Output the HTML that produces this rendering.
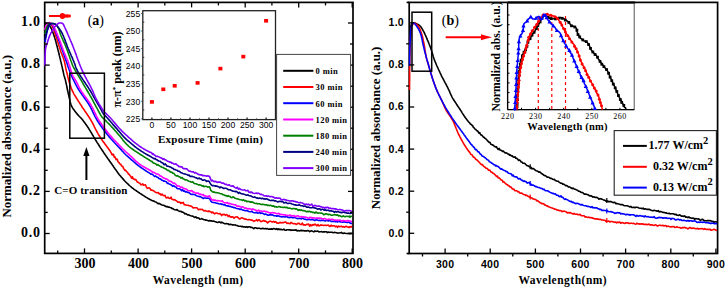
<!DOCTYPE html>
<html><head><meta charset="utf-8"><style>
html,body{margin:0;padding:0;background:#fff;width:727px;height:288px;overflow:hidden}
svg{display:block}
text{font-family:"Liberation Serif",serif;fill:#000}
.ta{font-size:14px;font-weight:bold;letter-spacing:0px}
.tb{font-family:"Liberation Sans",sans-serif;font-size:10.5px;font-weight:bold;letter-spacing:0.3px}
.ti{font-family:"Liberation Sans",sans-serif;font-size:8.6px}
.tj{font-family:"Liberation Serif",serif;font-size:8px}
.lab{font-size:11.5px;font-weight:bold}
.laby{font-size:12.9px;font-weight:bold}
.labi{font-size:12px;font-weight:bold}
.labj{font-size:11.7px;font-weight:bold}
.co{font-size:11px;font-weight:bold;letter-spacing:0.15px}
.pl{font-size:14px;font-weight:bold}
.lg{font-size:8.5px;font-weight:bold;letter-spacing:0.4px}
.lb{font-size:12px;font-weight:bold}
</style></head><body>
<svg width="727" height="288" viewBox="0 0 727 288">
<rect x="44.7" y="2.4" width="308.3" height="251.0" fill="none" stroke="#000" stroke-width="1.7"/>
<polyline points="44.8,24.5 45.4,23.6 46.0,23.0 47.0,23.2 48.0,23.8 48.6,24.4 49.2,25.1 49.8,26.0 50.4,27.0 51.0,28.0 51.4,28.8 51.8,29.7 52.2,30.6 52.6,31.6 53.0,32.6 53.4,33.7 53.7,34.8 54.1,35.9 54.5,36.9 54.8,38.0 55.1,39.0 55.4,39.9 55.7,40.9 56.0,41.9 56.2,43.0 56.5,44.0 56.7,45.0 57.0,46.0 57.3,47.0 57.5,48.0 57.8,49.0 58.0,50.0 58.3,51.0 58.5,52.1 58.8,53.1 59.0,54.1 59.3,55.1 59.5,56.0 59.8,57.0 60.0,58.0 60.3,59.0 60.5,60.0 60.7,61.0 61.0,62.1 61.2,63.1 61.5,64.2 61.7,65.2 62.0,66.2 62.2,67.3 62.4,68.2 62.6,69.1 62.8,70.0 63.0,71.1 63.3,72.1 63.5,73.1 63.7,74.0 63.9,75.0 64.2,76.0 64.5,76.9 64.8,77.9 65.1,78.9 65.4,80.0 65.6,80.9 65.8,81.8 66.0,82.8 66.2,83.8 66.5,84.9 66.7,85.9 66.9,87.0 67.1,88.0 67.3,89.0 67.5,90.0 67.7,91.1 68.0,92.1 68.2,93.1 68.4,94.2 68.7,95.2 68.9,96.2 69.1,97.1 69.3,98.0 69.6,99.1 69.8,100.1 70.0,101.2 70.3,102.1 70.5,103.0 70.8,104.0 71.1,105.0 71.5,106.0 72.0,106.9 72.6,107.9 73.3,109.0 74.1,110.0 74.8,111.0 75.5,111.9 76.2,112.9 77.0,113.8 77.7,114.6 78.5,115.5 79.2,116.3 79.9,117.0 80.7,117.7 81.4,118.5 82.1,119.3 82.8,120.1 83.4,121.0 84.1,121.9 84.8,122.8 85.4,123.7 86.0,124.5 86.7,125.5 87.3,126.4 87.9,127.3 88.6,128.3 89.1,129.2 89.7,130.1 90.3,131.1 90.9,132.1 91.5,133.1 92.1,134.1 92.6,135.0 93.2,135.9 93.7,136.8 94.2,137.6 94.7,138.5 95.3,139.5 95.7,140.2 96.2,141.0 96.7,141.8 97.2,142.6 97.8,143.5 98.4,144.4 98.9,145.3 99.5,146.2 100.1,147.2 100.7,148.1 101.4,149.1 102.0,150.0 102.5,150.8 103.1,151.6 103.6,152.4 104.2,153.2 104.7,154.1 105.3,154.9 105.9,155.8 106.5,156.6 107.1,157.5 107.7,158.4 108.3,159.3 109.0,160.1 109.5,161.0 110.1,161.8 110.7,162.6 111.3,163.4 111.9,164.2 112.4,165.0 113.1,165.9 113.7,166.9 114.3,167.8 114.9,168.7 115.6,169.5 116.2,170.4 116.8,171.3 117.4,172.1 118.0,173.0 118.6,173.8 119.3,174.7 120.0,175.5 120.7,176.3 121.3,177.1 122.0,177.8 122.7,178.6 123.4,179.4 124.1,180.2 124.8,181.0 125.5,181.7 126.3,182.5 127.0,183.2 127.8,183.9 128.5,184.6 129.3,185.3 130.0,186.0 130.8,186.7 131.6,187.4 132.4,188.0 133.3,188.6 134.1,189.3 134.9,189.9 135.8,190.4 136.6,191.0 137.5,191.6 138.3,192.2 139.2,192.7 140.0,193.3 140.9,193.9 141.8,194.5 142.7,195.1 143.6,195.7 144.5,196.3 145.4,196.8 146.3,197.4 147.2,197.9 148.2,198.5 149.1,199.0 150.0,199.5 151.0,200.0 152.0,200.6 153.0,200.9 154.0,201.1 155.0,201.7 156.0,202.0 157.0,202.8 158.0,203.6 159.0,203.4 160.0,203.8 161.0,204.6 162.0,205.0 163.0,205.3 164.0,205.3 165.0,206.0 166.0,206.7 167.0,206.4 168.0,207.1 169.0,207.0 170.0,207.5 171.0,207.7 172.0,208.6 173.0,208.6 174.0,209.5 175.0,209.8 176.0,210.0 177.0,209.5 178.0,210.6 179.0,211.1 180.0,211.5 181.0,211.3 182.0,212.1 182.9,212.3 183.9,212.8 184.9,213.9 185.9,213.6 186.9,214.3 187.9,215.0 188.9,214.9 190.0,215.5 190.9,215.8 191.9,216.1 192.8,216.0 193.8,216.8 194.8,217.5 195.8,216.8 196.8,217.9 197.8,217.9 198.8,218.0 199.8,219.2 200.9,219.0 201.9,218.6 203.0,219.3 204.0,219.7 205.0,219.7 205.9,220.2 206.9,220.1 207.8,220.6 208.7,221.0 209.7,220.5 210.6,220.9 211.6,220.9 212.6,221.3 213.6,221.0 214.6,221.4 215.6,221.7 216.7,222.2 217.8,222.5 218.9,221.8 220.0,222.2 220.9,222.9 221.7,222.1 222.6,222.8 223.5,223.1 224.4,223.7 225.3,223.7 226.3,223.5 227.2,223.7 228.2,223.9 229.1,224.7 230.1,224.2 231.1,224.4 232.1,224.9 233.1,224.9 234.1,225.0 235.2,224.9 236.2,225.5 237.2,225.5 238.3,226.2 239.3,226.2 240.4,226.2 241.4,226.6 242.5,226.4 243.6,227.0 244.6,226.8 245.7,227.2 246.8,226.6 247.8,227.4 248.9,226.8 250.0,226.8 250.9,227.5 251.9,227.4 252.8,227.9 253.8,228.7 254.7,227.7 255.7,227.8 256.6,228.2 257.6,228.4 258.6,228.2 259.6,228.3 260.6,228.7 261.6,228.7 262.6,228.2 263.6,228.6 264.6,228.7 265.6,228.4 266.6,228.9 267.6,228.6 268.6,229.3 269.6,229.0 270.6,229.1 271.7,228.9 272.7,229.1 273.7,228.5 274.7,228.8 275.8,229.4 276.8,228.6 277.8,229.7 278.8,228.8 279.9,229.7 280.9,229.2 281.9,229.8 282.9,229.7 283.9,229.1 285.0,230.2 286.0,230.3 287.0,229.8 288.0,229.8 289.0,229.9 290.0,229.7 291.0,230.4 292.0,229.9 293.0,230.2 294.1,230.0 295.1,230.1 296.1,229.9 297.1,230.9 298.2,230.4 299.2,230.9 300.3,230.6 301.3,230.4 302.4,230.6 303.4,230.6 304.5,230.9 305.5,230.8 306.6,230.9 307.6,230.5 308.7,230.8 309.7,231.7 310.7,231.0 311.8,230.9 312.8,231.4 313.8,231.9 314.9,230.9 315.9,231.4 316.9,231.3 317.9,231.0 318.9,231.9 319.9,231.7 320.8,231.8 321.8,231.6 322.8,232.1 323.7,231.8 324.6,231.9 325.6,231.7 326.5,231.7 327.4,232.6 328.3,232.0 329.1,232.4 330.0,232.3 331.1,232.2 332.2,232.2 333.3,232.7 334.4,232.4 335.4,232.5 336.5,232.7 337.5,233.1 338.5,233.0 339.5,233.0 340.4,232.7 341.4,232.4 342.4,233.3 343.3,233.4 344.3,233.0 345.2,233.3 346.2,233.5 347.1,233.5 348.1,233.6 349.1,233.2 350.0,233.9 351.0,233.0 352.0,233.8" fill="none" stroke="#000000" stroke-width="1.6" stroke-linejoin="round"/>
<polyline points="45.0,30.0 45.4,28.9 45.7,27.8 46.1,26.8 46.5,25.8 47.0,25.0 48.2,23.9 49.5,23.5 50.4,23.9 51.2,24.8 52.0,26.0 52.4,26.7 52.8,27.4 53.2,28.3 53.5,29.3 53.9,30.3 54.3,31.3 54.7,32.4 55.0,33.6 55.4,34.7 55.8,35.8 56.1,36.9 56.5,38.0 56.8,39.0 57.2,40.0 57.5,41.0 57.8,42.0 58.2,43.1 58.5,44.1 58.8,45.2 59.1,46.2 59.5,47.2 59.8,48.3 60.1,49.2 60.4,50.2 60.7,51.1 61.0,52.0 61.4,53.1 61.8,54.1 62.2,55.1 62.6,56.1 63.0,57.0 63.3,58.0 63.7,59.0 64.0,60.0 64.3,60.9 64.5,61.9 64.7,62.8 64.9,63.7 65.1,64.7 65.3,65.7 65.5,66.7 65.7,67.8 65.9,68.9 66.2,70.0 66.4,70.9 66.6,71.7 66.9,72.7 67.1,73.6 67.3,74.6 67.6,75.6 67.8,76.7 68.1,77.7 68.4,78.8 68.6,79.8 68.9,80.9 69.2,81.9 69.5,83.0 69.9,84.1 70.2,85.1 70.5,86.1 70.9,87.1 71.2,88.1 71.6,89.1 72.0,90.0 72.4,91.0 72.9,91.9 73.4,92.8 73.8,93.8 74.3,94.6 74.9,95.5 75.4,96.4 75.9,97.3 76.5,98.1 77.0,99.0 77.6,99.8 78.1,100.7 78.7,101.6 79.2,102.4 79.8,103.3 80.3,104.1 80.9,105.0 81.5,105.9 82.0,106.8 82.6,107.7 83.2,108.5 83.8,109.4 84.4,110.3 85.0,111.2 85.6,112.0 86.2,112.9 86.8,113.8 87.4,114.7 88.0,115.6 88.6,116.4 89.1,117.3 89.7,118.2 90.3,119.1 90.8,120.0 91.3,120.9 91.8,121.7 92.3,122.6 92.7,123.5 93.2,124.4 93.7,125.3 94.1,126.2 94.5,127.1 95.0,128.0 95.4,128.8 95.9,129.7 96.3,130.6 96.8,131.5 97.3,132.4 97.8,133.3 98.3,134.1 98.8,135.0 99.3,135.8 99.9,136.7 100.4,137.5 101.0,138.4 101.5,139.2 102.1,140.0 102.7,140.9 103.3,141.7 103.9,142.5 104.5,143.3 105.1,144.2 105.7,145.0 106.3,145.8 106.9,146.7 107.6,147.5 108.2,148.3 108.8,149.2 109.4,150.0 110.0,150.8 110.6,151.9 111.2,152.9 111.8,154.4 112.4,155.0 113.0,154.2 113.6,154.7 114.2,157.1 114.9,156.8 115.5,158.3 116.1,159.6 116.7,158.9 117.3,159.5 118.0,161.7 118.6,162.3 119.2,162.9 119.8,163.9 120.4,164.1 120.9,164.4 121.5,165.9 122.2,166.3 123.0,166.8 123.7,168.9 124.4,169.4 125.0,170.5 125.7,170.4 126.4,171.4 127.1,172.0 127.8,172.8 128.5,174.2 129.2,174.3 130.0,175.7 130.8,176.4 131.6,178.2 132.4,176.8 133.2,178.9 134.0,179.0 134.9,179.7 135.7,179.5 136.6,180.8 137.4,182.1 138.3,182.3 139.1,183.0 140.0,183.3 140.9,184.8 141.8,184.6 142.7,183.8 143.6,185.3 144.5,185.0 145.4,184.7 146.3,186.8 147.3,188.4 148.2,188.1 149.1,187.8 150.0,188.4 150.9,190.2 151.8,190.0 152.7,190.4 153.6,190.8 154.5,191.4 155.4,192.3 156.3,192.6 157.3,192.8 158.2,192.5 159.1,193.9 160.0,193.6 161.0,195.1 162.0,194.1 163.0,195.3 164.0,195.8 165.0,195.4 166.0,197.7 167.0,197.9 168.0,197.2 169.0,198.3 170.0,198.5 171.0,197.1 171.9,199.3 172.9,199.5 173.8,199.9 174.7,199.6 175.7,200.5 176.7,200.9 177.7,202.1 178.8,202.1 180.0,202.3 180.8,203.5 181.6,202.6 182.4,203.0 183.3,202.4 184.2,204.8 185.1,204.8 186.1,205.1 187.1,205.3 188.1,205.3 189.1,205.7 190.1,205.8 191.1,206.2 192.1,206.7 193.2,208.0 194.2,207.7 195.3,207.7 196.3,207.8 197.3,208.1 198.3,209.7 199.3,209.4 200.3,209.4 201.3,209.5 202.2,209.3 203.1,210.2 204.0,211.0 205.1,210.6 206.1,210.9 207.1,211.2 208.1,211.6 209.0,210.8 210.0,211.8 210.9,211.7 211.9,212.9 212.8,212.1 213.8,213.1 214.7,213.9 215.7,213.0 216.7,213.0 217.8,213.7 218.9,213.8 220.0,213.4 220.9,214.5 221.7,215.6 222.6,214.4 223.5,214.6 224.4,214.3 225.3,215.3 226.3,214.6 227.2,214.9 228.2,216.5 229.1,215.4 230.1,216.8 231.1,217.3 232.1,216.7 233.1,217.1 234.1,218.2 235.2,217.1 236.2,217.0 237.2,216.8 238.3,217.8 239.3,218.9 240.4,218.8 241.4,217.8 242.5,218.1 243.6,218.5 244.6,219.1 245.7,219.0 246.8,219.4 247.8,219.7 248.9,219.5 250.0,219.8 250.9,220.1 251.9,220.0 252.8,220.5 253.8,221.4 254.7,220.8 255.7,220.5 256.6,219.6 257.6,221.0 258.6,219.7 259.6,220.1 260.6,221.5 261.6,221.5 262.6,221.1 263.6,220.3 264.6,221.2 265.6,221.1 266.6,221.9 267.6,223.0 268.6,221.9 269.6,221.3 270.6,221.2 271.7,221.9 272.7,221.9 273.7,221.4 274.7,222.3 275.8,221.6 276.8,223.0 277.8,223.1 278.8,223.1 279.9,222.3 280.9,222.9 281.9,222.6 282.9,222.5 283.9,222.6 285.0,222.1 286.0,222.1 287.0,223.5 288.0,223.0 289.0,223.4 290.0,223.9 291.0,222.3 292.0,223.0 293.0,223.6 294.1,223.8 295.1,223.5 296.1,224.4 297.1,224.0 298.2,223.2 299.2,223.4 300.3,224.5 301.3,224.4 302.4,223.1 303.4,225.1 304.5,224.7 305.5,225.2 306.6,224.3 307.6,224.4 308.7,224.0 309.7,226.2 310.7,224.7 311.8,225.8 312.8,224.5 313.8,225.1 314.9,224.0 315.9,224.9 316.9,225.8 317.9,224.5 318.9,225.9 319.9,225.6 320.8,224.8 321.8,225.2 322.8,225.3 323.7,225.6 324.6,225.3 325.6,225.2 326.5,225.6 327.4,225.2 328.3,225.1 329.1,225.9 330.0,226.5 331.1,225.2 332.2,226.1 333.3,225.8 334.4,225.7 335.4,226.8 336.5,226.1 337.5,227.3 338.5,226.0 339.5,226.8 340.4,226.5 341.4,226.2 342.4,227.0 343.3,226.6 344.3,227.2 345.2,226.8 346.2,226.2 347.1,226.9 348.1,227.0 349.1,227.6 350.0,226.5 351.0,227.1 352.0,226.2" fill="none" stroke="#ff0000" stroke-width="1.6" stroke-linejoin="round"/>
<polyline points="45.0,42.0 45.2,41.0 45.4,40.0 45.6,38.9 45.8,37.9 46.0,36.8 46.2,35.8 46.4,34.8 46.6,33.8 46.8,32.9 47.0,32.0 47.3,30.9 47.6,29.7 47.9,28.7 48.2,27.7 48.6,26.8 49.0,26.0 50.0,24.6 51.0,24.0 52.0,24.6 53.0,26.0 53.4,26.6 53.7,27.3 54.1,28.0 54.5,28.9 54.9,29.8 55.3,30.8 55.7,31.8 56.1,32.8 56.5,33.9 56.8,34.9 57.2,36.0 57.6,37.0 58.0,38.0 58.4,39.0 58.7,40.0 59.1,41.0 59.5,42.0 59.9,43.0 60.2,44.0 60.6,45.1 60.9,46.1 61.3,47.1 61.6,48.1 62.0,49.1 62.3,50.1 62.7,51.1 63.0,52.0 63.4,53.1 63.8,54.1 64.1,55.2 64.5,56.2 64.9,57.3 65.2,58.3 65.5,59.2 65.9,60.2 66.2,61.1 66.5,62.0 66.9,63.1 67.2,64.1 67.5,65.1 67.8,66.0 68.1,67.0 68.5,68.0 68.9,69.0 69.2,70.0 69.6,71.0 70.0,72.0 70.4,73.0 70.8,74.0 71.2,75.0 71.6,76.0 72.1,77.0 72.5,78.0 73.0,79.0 73.5,80.0 74.0,81.0 74.5,82.0 74.9,82.9 75.4,83.7 75.8,84.6 76.3,85.4 76.7,86.3 77.2,87.2 77.7,88.1 78.3,89.0 78.9,90.0 79.4,90.7 79.8,91.5 80.4,92.2 80.9,93.0 81.5,93.8 82.1,94.7 82.7,95.5 83.3,96.3 83.9,97.2 84.5,98.1 85.1,98.9 85.8,99.8 86.4,100.7 87.0,101.5 87.6,102.4 88.1,103.3 88.7,104.1 89.2,105.0 89.7,105.9 90.3,106.9 90.8,107.8 91.2,108.7 91.7,109.7 92.2,110.6 92.6,111.6 93.1,112.5 93.5,113.5 94.0,114.4 94.5,115.3 94.9,116.3 95.4,117.2 95.9,118.2 96.5,119.1 97.0,120.0 97.5,120.9 98.1,121.7 98.6,122.6 99.2,123.4 99.7,124.3 100.3,125.1 100.9,125.9 101.5,126.8 102.1,127.6 102.7,128.5 103.3,129.3 103.9,130.1 104.5,131.0 105.2,131.8 105.8,132.6 106.4,133.4 107.1,134.2 107.7,135.0 108.4,135.8 109.0,136.6 109.7,137.4 110.4,138.2 111.1,139.0 111.9,139.8 112.6,140.6 113.4,141.4 114.1,142.2 114.8,143.0 115.5,143.7 116.2,144.5 116.9,145.2 117.6,145.9 118.2,146.6 118.9,147.3 119.4,147.9 120.0,148.5 120.8,149.4 121.6,150.3 122.3,151.1 123.0,151.8 123.6,152.6 124.3,153.3 125.0,154.0 125.8,154.8 126.6,155.5 127.4,156.2 128.2,156.9 129.1,157.7 130.0,158.5 130.7,159.1 131.5,159.8 132.2,160.4 133.1,161.1 133.9,161.9 134.8,162.6 135.6,163.3 136.5,164.1 137.4,164.8 138.3,165.5 139.1,166.2 140.0,166.8 140.9,167.5 141.8,168.1 142.7,168.7 143.6,169.3 144.5,169.9 145.4,170.5 146.3,171.1 147.2,171.7 148.2,172.3 149.1,172.8 150.0,173.4 150.9,174.2 151.8,174.1 152.7,174.4 153.6,175.5 154.5,176.4 155.4,176.0 156.3,176.6 157.3,177.3 158.2,177.6 159.1,178.6 160.0,178.7 160.9,179.2 161.8,180.2 162.7,180.2 163.6,181.1 164.5,181.1 165.4,181.5 166.4,181.7 167.3,183.5 168.2,183.2 169.1,183.9 170.0,184.3 170.9,184.8 171.8,185.3 172.6,186.4 173.4,185.8 174.3,186.1 175.1,186.8 176.0,187.1 176.9,188.3 177.9,188.8 178.9,188.7 180.0,189.0 180.8,189.7 181.6,190.7 182.5,189.6 183.4,191.1 184.4,190.9 185.4,192.0 186.4,191.7 187.5,192.4 188.5,192.4 189.6,192.9 190.7,194.2 191.8,194.4 192.9,194.3 194.0,194.5 195.1,194.6 196.1,195.5 197.2,195.9 198.2,196.2 199.2,196.6 200.1,196.5 201.0,197.1 201.8,197.4 202.6,198.1 203.3,198.5 204.0,198.0 205.4,198.0 206.6,198.3 207.7,198.1 208.7,198.2 209.5,198.8 210.2,199.3 210.7,201.0 211.5,201.8 212.2,202.3 213.0,202.5 214.0,202.5 215.0,202.7 216.1,203.1 217.4,203.2 218.6,203.8 220.0,204.0 220.7,203.7 221.5,204.4 222.2,204.1 223.0,204.6 223.9,204.9 224.8,204.5 225.6,205.5 226.6,205.8 227.5,205.9 228.5,206.1 229.5,206.4 230.5,206.4 231.5,207.0 232.5,207.1 233.6,207.6 234.6,207.5 235.7,208.2 236.8,208.5 237.9,208.7 239.0,208.8 240.1,209.5 241.2,209.0 242.3,210.0 243.4,210.1 244.5,210.4 245.6,210.7 246.7,210.6 247.8,211.0 248.9,211.5 250.0,211.7 250.9,211.8 251.9,211.3 252.8,212.2 253.8,212.6 254.7,212.8 255.7,212.7 256.6,212.2 257.6,213.2 258.6,213.0 259.6,212.4 260.6,213.5 261.5,213.1 262.5,213.3 263.5,213.7 264.5,214.5 265.6,214.1 266.6,214.5 267.6,215.1 268.6,215.2 269.6,214.8 270.6,214.9 271.7,214.7 272.7,215.0 273.7,215.6 274.7,215.7 275.7,215.7 276.8,216.2 277.8,215.7 278.8,216.1 279.8,216.5 280.9,216.6 281.9,216.9 282.9,216.8 283.9,216.7 285.0,217.0 286.0,216.7 287.0,216.6 288.0,217.5 289.0,217.4 290.0,217.6 291.0,217.0 292.0,217.6 293.0,217.6 294.0,217.7 295.1,217.3 296.1,218.1 297.1,218.6 298.2,218.5 299.2,218.3 300.3,218.6 301.3,218.9 302.4,217.8 303.4,218.8 304.5,219.2 305.5,219.3 306.6,219.7 307.6,219.6 308.7,219.4 309.7,219.5 310.7,219.8 311.8,219.4 312.8,219.6 313.8,220.1 314.8,220.5 315.9,219.8 316.9,220.0 317.9,220.1 318.9,220.6 319.9,220.2 320.8,220.8 321.8,220.0 322.8,220.4 323.7,220.4 324.6,220.8 325.6,221.0 326.5,220.2 327.4,220.5 328.3,221.0 329.1,220.7 330.0,220.5 331.1,221.5 332.2,221.4 333.3,221.4 334.4,221.2 335.4,221.8 336.5,221.4 337.5,222.0 338.5,221.4 339.5,221.5 340.4,221.9 341.4,221.7 342.4,222.2 343.3,222.1 344.3,221.8 345.2,222.2 346.2,222.1 347.1,222.6 348.1,222.2 349.1,222.3 350.0,223.0 351.0,223.4 352.0,223.4" fill="none" stroke="#0000ff" stroke-width="1.6" stroke-linejoin="round"/>
<polyline points="44.8,30.0 45.1,29.0 45.3,28.0 45.6,26.9 46.0,26.0 46.7,24.9 47.6,23.8 48.6,22.9 49.5,22.5 50.7,22.9 52.0,24.0 52.4,24.5 52.9,25.2 53.3,25.9 53.8,26.7 54.3,27.6 54.7,28.6 55.2,29.6 55.7,30.7 56.2,31.8 56.6,32.8 57.1,33.9 57.6,35.0 58.0,36.0 58.4,36.9 58.7,37.8 59.1,38.7 59.5,39.7 59.8,40.6 60.2,41.6 60.6,42.6 60.9,43.6 61.3,44.6 61.6,45.6 62.0,46.5 62.3,47.5 62.7,48.4 63.0,49.4 63.3,50.3 63.7,51.2 64.0,52.0 64.4,53.1 64.9,54.2 65.4,55.3 65.8,56.3 66.2,57.3 66.7,58.3 67.1,59.3 67.5,60.2 67.9,61.1 68.2,62.0 68.6,63.1 68.9,64.1 69.3,65.1 69.6,66.0 69.9,67.0 70.2,68.0 70.5,69.0 70.8,70.0 71.1,71.0 71.4,72.0 71.7,73.0 72.1,74.0 72.5,75.0 72.9,75.9 73.4,76.8 73.9,77.6 74.4,78.5 74.9,79.3 75.5,80.2 76.0,81.1 76.5,82.0 77.0,83.0 77.5,83.9 77.9,84.9 78.4,85.8 78.9,86.8 79.4,87.8 80.0,88.9 80.6,90.0 81.0,90.7 81.5,91.5 82.0,92.2 82.6,93.0 83.1,93.8 83.7,94.7 84.3,95.5 84.9,96.3 85.6,97.2 86.2,98.1 86.8,98.9 87.4,99.8 88.1,100.7 88.7,101.5 89.3,102.4 89.8,103.3 90.4,104.1 90.9,105.0 91.4,105.9 92.0,106.9 92.5,107.8 92.9,108.7 93.4,109.7 93.9,110.6 94.3,111.6 94.8,112.5 95.2,113.5 95.7,114.4 96.1,115.3 96.6,116.3 97.1,117.2 97.6,118.2 98.1,119.1 98.7,120.0 99.2,120.9 99.8,121.7 100.4,122.6 101.0,123.4 101.6,124.3 102.2,125.2 102.8,126.0 103.4,126.9 104.0,127.7 104.7,128.6 105.3,129.4 106.0,130.2 106.6,131.1 107.3,131.9 107.9,132.7 108.5,133.5 109.2,134.2 109.8,135.0 110.5,135.8 111.2,136.6 111.9,137.4 112.6,138.2 113.3,139.0 114.0,139.8 114.7,140.5 115.5,141.3 116.2,142.0 116.8,142.7 117.5,143.4 118.2,144.1 118.8,144.8 119.4,145.4 120.0,146.0 120.8,146.8 121.5,147.6 122.3,148.3 122.9,149.0 123.6,149.7 124.3,150.3 125.0,151.0 125.8,151.8 126.6,152.5 127.4,153.2 128.2,153.9 129.1,154.7 130.0,155.5 130.7,156.1 131.3,156.7 132.1,157.4 132.8,158.1 133.6,158.9 134.3,159.6 135.1,160.4 135.9,161.1 136.8,161.8 137.6,162.6 138.4,163.2 139.2,163.9 140.0,164.5 140.9,165.1 141.8,165.7 142.7,166.3 143.6,166.8 144.5,167.3 145.4,167.8 146.3,168.3 147.2,168.8 148.2,169.3 149.1,169.8 150.0,170.3 150.9,170.8 151.8,171.4 152.7,172.4 153.6,172.3 154.5,172.5 155.4,173.4 156.4,174.0 157.3,174.0 158.2,174.2 159.1,174.8 160.0,176.0 160.9,176.0 161.8,176.7 162.7,177.4 163.6,178.0 164.5,178.1 165.5,178.9 166.4,178.9 167.3,179.6 168.2,179.9 169.1,181.1 170.0,181.2 170.9,181.4 171.8,182.0 172.6,182.6 173.4,183.4 174.3,183.0 175.1,183.7 176.0,184.4 176.9,185.9 177.9,185.8 178.9,186.0 180.0,186.7 180.8,187.6 181.6,187.1 182.5,187.5 183.4,188.4 184.4,188.5 185.4,189.0 186.4,189.0 187.5,190.3 188.5,190.6 189.6,190.7 190.7,191.1 191.8,190.6 192.9,191.9 194.0,192.1 195.1,192.7 196.1,193.1 197.2,193.1 198.2,193.0 199.2,194.1 200.1,194.0 201.0,194.5 201.8,194.6 202.6,195.0 203.3,194.5 204.0,195.9 205.4,195.9 206.6,196.3 207.7,196.7 208.7,196.1 209.5,195.9 210.2,197.2 210.7,198.3 211.5,199.5 212.2,200.1 213.0,199.6 214.0,200.5 215.0,200.0 216.2,200.7 217.4,200.6 218.7,200.7 220.0,201.0 220.7,201.0 221.4,201.1 222.2,200.9 222.9,201.7 223.8,202.5 224.6,202.8 225.5,202.8 226.3,202.9 227.2,202.6 228.2,203.6 229.1,203.4 230.1,203.6 231.1,203.9 232.1,204.3 233.1,204.4 234.1,204.8 235.1,204.7 236.2,205.3 237.2,206.5 238.3,206.0 239.3,206.2 240.4,206.8 241.5,207.2 242.6,206.8 243.6,207.4 244.7,208.1 245.8,208.1 246.8,208.3 247.9,209.1 249.0,208.5 250.0,209.0 250.9,209.0 251.9,209.9 252.8,208.9 253.8,209.5 254.7,209.8 255.7,210.4 256.6,210.5 257.6,211.0 258.6,210.2 259.6,211.1 260.6,211.0 261.5,211.0 262.5,211.6 263.5,211.3 264.5,211.0 265.6,211.8 266.6,211.6 267.6,212.0 268.6,212.5 269.6,212.7 270.6,213.3 271.6,212.8 272.7,212.5 273.7,212.9 274.7,213.0 275.7,213.1 276.8,213.8 277.8,213.6 278.8,213.3 279.8,214.4 280.9,214.2 281.9,214.5 282.9,214.6 283.9,214.9 285.0,214.8 286.0,215.4 287.0,215.2 288.0,215.4 289.0,215.5 290.0,215.0 291.0,215.6 292.0,215.7 293.0,216.0 294.0,215.5 295.1,216.7 296.1,216.3 297.1,215.9 298.2,215.9 299.2,216.5 300.3,216.7 301.3,216.6 302.4,217.0 303.4,216.8 304.5,217.3 305.5,217.0 306.6,217.4 307.6,217.8 308.6,218.5 309.7,217.3 310.7,217.6 311.8,217.6 312.8,218.2 313.8,217.7 314.8,218.0 315.9,218.2 316.9,218.0 317.9,218.1 318.9,218.3 319.9,217.9 320.8,218.2 321.8,218.6 322.8,218.9 323.7,218.9 324.6,218.4 325.6,218.9 326.5,219.5 327.4,219.5 328.3,219.3 329.1,219.1 330.0,219.7 331.1,219.4 332.2,219.3 333.3,219.5 334.4,220.4 335.4,220.1 336.5,220.5 337.5,220.0 338.5,220.6 339.5,220.1 340.4,220.3 341.4,221.3 342.4,220.8 343.3,220.4 344.3,220.7 345.2,220.9 346.2,221.3 347.1,220.7 348.1,220.4 349.1,221.0 350.0,221.1 351.0,221.3 352.0,221.8" fill="none" stroke="#ff00ff" stroke-width="1.6" stroke-linejoin="round"/>
<polyline points="44.8,34.0 45.1,33.0 45.4,31.9 45.7,30.8 46.0,29.8 46.3,28.8 46.6,27.8 47.0,27.0 47.6,25.8 48.2,24.8 49.0,24.0 49.9,23.6 50.9,23.5 52.0,23.5 53.2,23.6 54.4,24.0 55.5,24.5 56.3,25.2 57.0,26.0 57.7,26.9 58.3,28.0 58.7,28.8 59.1,29.7 59.4,30.7 59.7,31.7 60.0,32.8 60.4,33.9 60.8,35.0 61.1,35.8 61.5,36.6 61.8,37.5 62.2,38.4 62.6,39.3 63.0,40.2 63.4,41.1 63.9,42.1 64.3,43.0 64.7,44.0 65.2,45.0 65.6,46.0 66.0,47.0 66.4,48.0 66.7,48.9 67.1,49.8 67.5,50.8 67.8,51.8 68.2,52.9 68.6,53.9 68.9,55.0 69.3,56.0 69.7,57.1 70.0,58.2 70.4,59.2 70.7,60.2 71.1,61.2 71.4,62.1 71.7,63.0 72.0,63.9 72.3,64.6 72.6,65.4 72.9,66.0 73.4,67.1 73.9,68.0 74.4,68.9 75.0,70.0 75.3,70.6 75.7,71.2 76.1,71.9 76.5,72.7 77.0,73.5 77.5,74.4 78.1,75.3 78.6,76.2 79.2,77.2 79.8,78.2 80.4,79.2 81.0,80.2 81.6,81.2 82.2,82.2 82.8,83.2 83.3,84.2 83.9,85.1 84.5,86.1 85.0,86.9 85.5,87.8 86.0,88.6 86.4,89.3 86.8,90.0 87.4,91.0 88.0,92.0 88.5,92.9 89.0,93.7 89.5,94.5 89.9,95.3 90.4,96.1 90.9,97.0 91.4,97.9 91.9,98.8 92.4,99.7 92.9,100.7 93.4,101.6 93.9,102.5 94.3,103.4 94.8,104.2 95.2,105.0 95.8,106.1 96.3,107.1 96.9,108.0 97.4,109.0 97.9,110.0 98.4,111.0 99.0,112.0 99.5,113.0 100.1,114.0 100.6,115.0 101.2,115.9 101.8,116.8 102.5,117.6 103.2,118.2 104.0,119.0 104.6,119.6 105.3,120.2 106.0,120.9 106.7,121.7 107.5,122.5 108.3,123.3 109.2,124.1 110.0,125.0 110.6,125.7 111.2,126.3 111.9,127.1 112.6,127.8 113.3,128.6 114.0,129.4 114.7,130.2 115.4,131.0 116.2,131.8 116.8,132.6 117.5,133.4 118.2,134.2 118.8,134.9 119.4,135.6 120.0,136.3 120.8,137.3 121.6,138.2 122.3,139.1 122.9,140.0 123.6,140.9 124.3,141.7 125.0,142.5 125.8,143.4 126.6,144.2 127.3,144.9 128.2,145.7 129.0,146.5 130.0,147.3 130.7,147.9 131.4,148.4 132.2,149.0 133.0,149.5 133.8,150.1 134.6,150.7 135.5,151.2 136.4,151.8 137.3,152.4 138.2,153.0 139.1,153.6 140.0,154.2 140.8,154.7 141.7,155.3 142.6,155.8 143.5,156.4 144.4,157.0 145.4,157.6 146.3,158.2 147.3,158.8 148.3,159.4 149.2,160.0 150.2,160.7 151.1,161.4 151.9,161.2 152.8,162.4 153.6,163.3 154.3,163.3 155.0,163.5 156.1,164.1 157.0,165.1 157.9,164.6 158.8,165.3 160.0,166.2 160.6,166.6 161.3,166.6 162.1,167.3 162.9,167.5 163.8,168.1 164.7,168.5 165.6,168.7 166.6,169.6 167.6,170.5 168.6,170.4 169.6,171.3 170.6,172.2 171.6,172.1 172.7,173.1 173.7,173.3 174.7,174.6 175.6,175.5 176.6,175.9 177.5,175.6 178.4,176.4 179.2,176.6 180.0,177.0 181.1,178.1 182.2,177.6 183.2,178.9 184.1,179.0 185.1,179.9 186.0,179.9 187.0,180.0 187.9,180.8 188.9,181.3 190.0,181.5 190.9,182.0 191.9,182.1 192.9,181.9 194.0,183.3 195.1,183.7 196.1,183.8 197.2,184.2 198.3,184.9 199.4,184.7 200.4,185.0 201.4,185.5 202.3,186.2 203.2,185.6 204.0,186.7 205.3,186.3 206.5,186.3 207.7,187.2 208.7,186.9 209.5,186.8 210.1,188.0 210.5,189.4 210.8,190.5 211.5,190.9 212.2,191.6 213.0,192.1 214.0,191.9 215.0,192.5 216.1,192.6 217.4,192.7 218.6,193.0 220.0,193.5 220.7,193.7 221.4,193.7 222.2,194.0 222.9,194.8 223.7,194.7 224.6,195.2 225.4,195.6 226.3,195.6 227.2,196.5 228.2,195.7 229.1,196.5 230.1,196.4 231.0,197.5 232.0,197.7 233.0,196.8 234.1,197.4 235.1,198.3 236.1,198.6 237.2,198.9 238.3,199.0 239.3,199.4 240.4,199.8 241.5,199.8 242.5,200.5 243.6,199.7 244.7,200.9 245.8,200.6 246.8,201.6 247.9,201.4 249.0,201.5 250.0,202.1 250.9,201.9 251.9,202.1 252.8,202.0 253.7,202.8 254.7,203.2 255.7,203.5 256.6,203.3 257.6,203.9 258.6,203.7 259.6,203.8 260.6,204.2 261.5,204.6 262.5,204.3 263.5,204.5 264.5,204.6 265.6,204.9 266.6,204.7 267.6,205.5 268.6,205.2 269.6,205.6 270.6,205.3 271.7,205.9 272.7,206.1 273.7,205.9 274.7,206.9 275.8,206.5 276.8,207.2 277.8,207.0 278.8,206.6 279.9,206.8 280.9,207.3 281.9,207.3 282.9,207.4 283.9,207.5 285.0,207.1 286.0,207.8 287.0,207.3 288.0,208.3 289.0,208.1 290.0,208.2 291.0,208.6 292.0,208.9 293.0,208.5 294.1,208.5 295.1,208.9 296.1,208.8 297.1,209.3 298.2,210.4 299.2,209.6 300.3,210.4 301.3,209.8 302.4,210.6 303.4,210.6 304.5,210.8 305.5,211.2 306.6,211.8 307.6,211.4 308.7,211.6 309.7,211.3 310.7,212.0 311.8,211.9 312.8,212.5 313.8,212.3 314.8,213.1 315.9,212.0 316.9,212.7 317.9,213.3 318.9,213.0 319.9,213.0 320.8,213.3 321.8,213.1 322.8,213.7 323.7,214.7 324.6,214.4 325.6,213.7 326.5,213.9 327.4,214.2 328.3,214.8 329.1,214.3 330.0,214.5 331.1,215.2 332.2,215.3 333.3,215.0 334.4,214.8 335.4,214.8 336.5,215.2 337.5,214.8 338.5,215.9 339.5,215.6 340.4,216.0 341.4,216.6 342.4,216.5 343.3,215.8 344.3,216.5 345.2,216.7 346.2,216.2 347.1,216.2 348.1,216.6 349.1,216.1 350.0,217.3 351.0,216.1 352.0,216.6" fill="none" stroke="#008000" stroke-width="1.6" stroke-linejoin="round"/>
<polyline points="44.8,40.0 45.0,39.0 45.3,38.0 45.5,37.0 45.7,35.9 45.9,34.9 46.2,33.9 46.4,32.9 46.7,31.9 47.0,31.0 47.3,29.9 47.7,28.7 48.0,27.5 48.4,26.4 48.9,25.4 49.4,24.6 50.0,24.0 50.9,23.6 51.9,23.5 53.0,23.5 54.1,23.7 55.0,24.0 55.9,24.5 56.6,25.2 57.3,26.1 58.0,27.0 58.6,27.7 59.1,28.4 59.7,29.2 60.3,30.1 60.9,31.0 61.4,32.0 62.0,33.0 62.4,33.7 62.7,34.5 63.1,35.4 63.5,36.3 63.9,37.2 64.2,38.1 64.6,39.1 65.0,40.1 65.4,41.1 65.7,42.1 66.1,43.1 66.5,44.1 66.9,45.1 67.2,46.1 67.6,47.1 68.0,48.0 68.4,49.0 68.8,49.9 69.2,50.9 69.6,51.9 70.1,52.8 70.5,53.8 70.9,54.8 71.3,55.8 71.8,56.7 72.2,57.6 72.6,58.6 72.9,59.5 73.3,60.3 73.7,61.2 74.0,62.0 74.4,63.1 74.8,64.1 75.1,65.0 75.4,65.9 75.7,66.9 76.0,67.8 76.5,68.9 77.0,70.0 77.4,70.7 77.8,71.5 78.2,72.3 78.7,73.1 79.3,74.0 79.8,74.9 80.4,75.8 81.0,76.7 81.7,77.7 82.3,78.7 82.9,79.6 83.6,80.6 84.2,81.6 84.9,82.5 85.5,83.5 86.1,84.4 86.8,85.3 87.3,86.2 87.9,87.0 88.4,87.8 88.9,88.6 89.4,89.3 89.8,90.0 90.4,91.0 91.0,92.0 91.5,92.9 92.0,93.7 92.4,94.6 92.9,95.4 93.3,96.2 93.8,97.0 94.3,97.9 94.8,98.8 95.4,99.8 95.9,100.7 96.4,101.6 96.9,102.4 97.4,103.3 97.9,104.2 98.5,105.1 99.0,105.9 99.5,106.8 100.0,107.6 100.5,108.5 101.1,109.6 101.7,110.7 102.2,111.8 102.8,112.8 103.4,113.7 104.2,114.7 105.1,115.6 106.0,116.5 106.6,117.2 107.2,117.8 107.8,118.5 108.5,119.3 109.2,120.1 110.0,121.0 110.5,121.6 111.1,122.3 111.8,123.0 112.4,123.8 113.1,124.6 113.8,125.4 114.6,126.3 115.3,127.1 116.0,127.9 116.8,128.8 117.5,129.6 118.1,130.4 118.8,131.1 119.4,131.8 120.0,132.5 120.8,133.4 121.5,134.3 122.2,135.1 122.9,135.9 123.6,136.6 124.3,137.4 125.0,138.1 125.8,138.9 126.6,139.6 127.4,140.3 128.2,141.0 129.1,141.7 130.0,142.5 130.7,143.1 131.4,143.7 132.2,144.3 133.0,145.0 133.8,145.6 134.6,146.3 135.5,147.0 136.3,147.7 137.2,148.3 138.1,149.0 139.1,149.7 140.0,150.3 140.8,150.8 141.6,151.4 142.5,151.9 143.5,152.5 144.4,153.1 145.3,153.6 146.3,154.2 147.3,154.7 148.3,155.3 149.2,155.8 150.1,156.3 151.1,156.8 151.9,157.4 152.8,157.9 153.6,158.2 154.3,159.0 155.0,158.3 156.1,159.6 157.0,159.8 157.9,160.5 158.8,161.0 160.0,161.2 160.6,161.6 161.3,162.5 162.0,162.7 162.8,162.8 163.6,164.2 164.4,164.7 165.3,163.9 166.2,165.0 167.1,166.3 168.0,166.2 169.0,166.5 170.0,166.9 171.0,167.3 172.0,168.0 173.0,168.4 174.0,169.4 175.0,169.5 176.0,170.0 177.0,170.2 178.0,171.1 179.0,171.3 180.0,171.9 180.9,172.8 181.9,172.9 182.9,173.4 183.9,173.7 184.9,174.0 185.9,174.3 187.0,174.6 188.1,175.4 189.1,175.1 190.2,176.4 191.3,176.3 192.3,176.4 193.4,176.8 194.4,177.1 195.5,177.7 196.5,177.8 197.5,178.7 198.4,178.4 199.3,178.1 200.2,178.9 201.1,178.7 201.9,179.7 202.6,180.3 203.3,180.3 204.0,179.8 205.4,180.3 206.6,181.4 207.7,181.0 208.7,181.1 209.5,181.9 210.1,183.1 210.5,183.7 210.8,184.2 211.5,185.1 212.2,185.6 213.0,185.5 214.0,185.6 215.0,186.1 216.2,185.9 217.4,186.4 218.6,186.7 220.0,187.8 220.7,186.9 221.4,187.3 222.2,187.6 222.9,188.0 223.8,188.5 224.6,188.2 225.4,188.3 226.3,188.3 227.2,188.9 228.2,189.7 229.1,189.8 230.1,189.7 231.1,190.3 232.0,190.7 233.1,191.2 234.1,191.2 235.1,191.6 236.2,191.4 237.2,192.0 238.3,193.3 239.3,192.3 240.4,193.2 241.5,193.7 242.5,193.9 243.6,194.0 244.7,194.6 245.8,194.9 246.8,195.2 247.9,194.8 249.0,195.7 250.0,195.7 250.9,196.0 251.9,196.5 252.8,196.9 253.7,197.2 254.7,196.9 255.7,197.6 256.6,197.9 257.6,198.1 258.6,198.4 259.6,198.0 260.6,198.2 261.5,198.8 262.5,198.2 263.5,198.9 264.5,198.9 265.6,199.1 266.6,198.8 267.6,199.3 268.6,199.8 269.6,200.3 270.6,200.5 271.7,200.3 272.7,200.4 273.7,200.4 274.7,201.0 275.8,200.9 276.8,201.4 277.8,202.0 278.8,201.5 279.9,201.2 280.9,201.6 281.9,201.5 282.9,201.8 283.9,202.9 285.0,202.7 286.0,202.2 287.0,203.2 288.0,203.6 289.0,203.2 290.0,203.3 291.0,203.6 292.0,204.0 293.0,204.3 294.1,204.7 295.1,204.9 296.1,205.1 297.1,205.3 298.2,205.3 299.2,204.7 300.3,205.4 301.3,205.8 302.4,205.7 303.4,206.4 304.5,206.1 305.5,206.1 306.6,207.2 307.6,207.1 308.7,207.1 309.7,207.6 310.7,207.8 311.8,207.8 312.8,207.0 313.8,207.8 314.8,208.1 315.9,208.1 316.9,208.7 317.9,209.2 318.9,208.8 319.8,208.7 320.8,210.0 321.8,209.3 322.7,209.2 323.7,209.9 324.6,210.1 325.6,209.9 326.5,210.5 327.4,210.2 328.3,210.2 329.1,210.7 330.0,211.1 331.1,210.7 332.2,211.2 333.3,211.2 334.4,212.4 335.4,211.3 336.5,212.1 337.5,211.7 338.5,211.8 339.5,212.2 340.4,212.4 341.4,212.6 342.4,212.4 343.3,212.1 344.3,212.2 345.2,212.7 346.2,212.8 347.1,213.2 348.1,212.9 349.1,213.3 350.0,213.5 351.0,213.2 352.0,212.7" fill="none" stroke="#000080" stroke-width="1.6" stroke-linejoin="round"/>
<polyline points="44.8,66.0 44.8,65.0 44.8,64.0 44.9,62.9 44.9,61.9 44.9,60.9 44.9,59.8 45.0,58.8 45.0,57.8 45.0,56.8 45.1,55.9 45.1,55.0 45.2,53.9 45.2,52.9 45.3,51.9 45.3,50.9 45.4,49.9 45.5,49.0 45.7,48.0 45.9,47.0 46.2,46.0 46.5,45.0 46.8,44.0 47.2,43.0 47.5,42.0 47.8,41.0 48.1,40.0 48.5,39.0 48.8,38.0 49.2,36.9 49.6,35.9 50.0,35.0 50.5,34.0 50.9,33.0 51.5,32.1 52.0,31.2 52.5,30.3 53.0,29.5 53.6,28.5 54.2,27.6 54.8,26.8 55.5,26.0 56.2,25.2 57.0,24.4 57.8,23.8 58.6,23.3 59.8,23.0 61.1,23.0 62.3,23.3 63.1,24.0 63.7,25.0 64.2,26.2 64.8,27.5 65.2,28.3 65.6,29.2 66.0,30.0 66.4,31.0 66.9,31.9 67.3,32.9 67.7,33.9 68.2,35.0 68.6,35.8 68.9,36.6 69.3,37.5 69.6,38.3 70.0,39.2 70.4,40.1 70.8,41.1 71.2,42.0 71.6,43.0 72.0,43.9 72.4,44.9 72.8,45.9 73.2,47.0 73.6,48.0 73.9,48.8 74.3,49.7 74.6,50.6 74.9,51.5 75.3,52.4 75.6,53.4 76.0,54.3 76.3,55.3 76.7,56.3 77.0,57.2 77.4,58.2 77.7,59.2 78.1,60.2 78.5,61.2 78.9,62.2 79.2,63.2 79.6,64.2 80.0,65.2 80.4,66.2 80.8,67.2 81.2,68.1 81.6,69.1 82.0,70.0 82.4,70.9 82.9,71.9 83.4,72.9 83.8,73.9 84.3,74.8 84.8,75.8 85.3,76.8 85.9,77.8 86.4,78.8 86.9,79.8 87.4,80.7 87.9,81.7 88.4,82.6 88.9,83.5 89.4,84.4 89.9,85.3 90.4,86.2 90.8,87.0 91.2,87.8 91.6,88.6 92.0,89.3 92.3,90.0 92.8,91.2 93.3,92.3 93.7,93.3 94.1,94.2 94.5,95.1 94.9,96.1 95.3,97.0 95.8,98.0 96.3,99.1 96.9,100.1 97.4,101.1 98.0,102.1 98.5,103.0 99.1,104.1 99.8,105.1 100.4,106.0 101.0,107.0 101.6,108.0 102.2,108.9 102.8,109.9 103.4,110.7 104.1,111.5 104.7,112.2 105.5,113.0 106.1,113.6 106.8,114.3 107.5,115.0 108.3,115.8 109.1,116.6 110.0,117.5 110.6,118.1 111.1,118.8 111.8,119.5 112.4,120.2 113.0,121.0 113.7,121.8 114.4,122.6 115.1,123.4 115.8,124.2 116.5,125.1 117.2,125.9 117.9,126.7 118.6,127.5 119.3,128.3 120.0,129.0 120.8,129.8 121.5,130.6 122.3,131.3 123.0,132.1 123.8,132.8 124.6,133.5 125.3,134.3 126.1,135.0 126.9,135.7 127.7,136.4 128.4,137.1 129.2,137.8 130.0,138.5 130.8,139.2 131.6,139.9 132.4,140.6 133.2,141.3 134.0,142.0 134.8,142.6 135.6,143.3 136.5,143.9 137.3,144.6 138.2,145.2 139.1,145.9 140.0,146.5 140.8,147.0 141.6,147.6 142.5,148.1 143.4,148.7 144.3,149.2 145.3,149.8 146.2,150.3 147.2,150.8 148.1,151.3 149.0,151.8 149.9,152.3 150.8,152.4 151.7,152.8 152.5,154.3 153.3,153.8 154.0,154.9 155.1,155.3 156.0,156.2 156.9,156.4 157.8,156.4 158.8,156.9 160.0,157.5 160.7,157.9 161.4,158.0 162.2,158.5 163.0,159.5 163.9,158.7 164.8,159.8 165.7,159.9 166.7,160.7 167.6,161.3 168.6,161.5 169.6,162.2 170.7,161.9 171.7,163.3 172.7,163.1 173.8,164.0 174.8,164.3 175.9,163.8 176.9,164.9 178.0,165.7 179.0,166.6 180.0,166.6 180.9,167.0 181.9,166.8 182.9,168.2 183.9,168.8 184.9,168.6 186.0,168.9 187.0,168.9 188.1,170.2 189.2,171.3 190.2,171.1 191.3,171.7 192.4,171.9 193.4,171.8 194.5,173.0 195.5,172.5 196.5,173.3 197.5,173.8 198.4,174.4 199.3,174.6 200.2,174.9 201.1,174.8 201.9,174.9 202.6,175.6 203.3,175.6 204.0,175.5 205.4,175.8 206.6,176.2 207.7,175.8 208.7,176.2 209.5,176.4 210.2,178.1 210.7,179.4 211.5,181.0 212.2,180.2 213.0,180.8 214.0,181.6 215.0,181.4 216.1,181.6 217.4,182.5 218.6,182.0 220.0,182.1 220.7,182.2 221.4,183.0 222.2,183.2 222.9,182.9 223.8,183.3 224.6,184.1 225.4,184.4 226.3,184.2 227.2,185.0 228.2,185.2 229.1,184.7 230.1,185.6 231.1,186.1 232.0,186.1 233.1,185.9 234.1,186.9 235.1,187.6 236.2,188.2 237.2,187.2 238.3,189.2 239.3,188.3 240.4,189.3 241.5,189.8 242.5,190.0 243.6,190.0 244.7,189.9 245.8,190.8 246.8,190.7 247.9,190.3 249.0,192.5 250.0,192.0 250.9,192.7 251.8,192.0 252.7,193.0 253.7,193.3 254.6,193.5 255.5,193.2 256.5,193.0 257.4,193.6 258.4,193.1 259.3,193.6 260.3,194.4 261.3,194.3 262.2,194.8 263.2,195.0 264.2,196.0 265.2,196.0 266.1,195.7 267.1,196.4 268.1,195.9 269.1,196.3 270.1,196.9 271.1,196.4 272.1,196.9 273.1,196.8 274.1,197.5 275.1,198.3 276.1,197.6 277.1,198.2 278.1,198.0 279.1,198.1 280.1,198.3 281.1,199.5 282.1,200.0 283.1,199.5 284.1,199.3 285.1,200.0 286.1,199.9 287.1,200.5 288.0,200.5 289.0,200.7 290.0,201.0 291.0,200.8 292.0,201.1 293.0,200.8 294.0,201.5 295.1,201.3 296.1,202.0 297.1,201.9 298.2,202.5 299.2,202.8 300.3,202.4 301.3,202.8 302.4,203.0 303.4,203.7 304.5,204.3 305.5,204.2 306.6,204.0 307.6,204.8 308.6,204.0 309.7,205.2 310.7,204.7 311.8,204.1 312.8,206.2 313.8,206.0 314.8,205.3 315.9,205.9 316.9,206.0 317.9,206.2 318.9,205.9 319.8,206.3 320.8,206.9 321.8,207.0 322.7,207.5 323.7,207.3 324.6,208.2 325.6,207.3 326.5,207.8 327.4,207.2 328.3,207.6 329.1,208.6 330.0,208.0 331.1,208.7 332.2,208.6 333.3,208.5 334.4,208.9 335.4,208.9 336.5,209.1 337.5,209.7 338.5,209.8 339.5,209.5 340.4,209.5 341.4,210.0 342.4,210.0 343.3,210.5 344.3,211.2 345.2,210.7 346.2,210.5 347.1,210.6 348.1,210.5 349.1,210.6 350.0,210.7 351.0,211.0 352.0,211.2" fill="none" stroke="#8000ff" stroke-width="1.6" stroke-linejoin="round"/>
<line x1="84.5" y1="253.4" x2="84.5" y2="248.4" stroke="#000" stroke-width="1.3"/><line x1="138.1" y1="253.4" x2="138.1" y2="248.4" stroke="#000" stroke-width="1.3"/><line x1="191.6" y1="253.4" x2="191.6" y2="248.4" stroke="#000" stroke-width="1.3"/><line x1="245.2" y1="253.4" x2="245.2" y2="248.4" stroke="#000" stroke-width="1.3"/><line x1="298.7" y1="253.4" x2="298.7" y2="248.4" stroke="#000" stroke-width="1.3"/><line x1="352.2" y1="253.4" x2="352.2" y2="248.4" stroke="#000" stroke-width="1.3"/>
<line x1="57.7" y1="253.4" x2="57.7" y2="250.4" stroke="#000" stroke-width="1.3"/><line x1="111.3" y1="253.4" x2="111.3" y2="250.4" stroke="#000" stroke-width="1.3"/><line x1="164.8" y1="253.4" x2="164.8" y2="250.4" stroke="#000" stroke-width="1.3"/><line x1="218.4" y1="253.4" x2="218.4" y2="250.4" stroke="#000" stroke-width="1.3"/><line x1="271.9" y1="253.4" x2="271.9" y2="250.4" stroke="#000" stroke-width="1.3"/><line x1="325.5" y1="253.4" x2="325.5" y2="250.4" stroke="#000" stroke-width="1.3"/>
<line x1="84.5" y1="2.4" x2="84.5" y2="7.4" stroke="#000" stroke-width="1.3"/><line x1="138.1" y1="2.4" x2="138.1" y2="7.4" stroke="#000" stroke-width="1.3"/><line x1="191.6" y1="2.4" x2="191.6" y2="7.4" stroke="#000" stroke-width="1.3"/><line x1="245.2" y1="2.4" x2="245.2" y2="7.4" stroke="#000" stroke-width="1.3"/><line x1="298.7" y1="2.4" x2="298.7" y2="7.4" stroke="#000" stroke-width="1.3"/><line x1="352.2" y1="2.4" x2="352.2" y2="7.4" stroke="#000" stroke-width="1.3"/>
<line x1="57.7" y1="2.4" x2="57.7" y2="5.4" stroke="#000" stroke-width="1.3"/><line x1="111.3" y1="2.4" x2="111.3" y2="5.4" stroke="#000" stroke-width="1.3"/><line x1="164.8" y1="2.4" x2="164.8" y2="5.4" stroke="#000" stroke-width="1.3"/><line x1="218.4" y1="2.4" x2="218.4" y2="5.4" stroke="#000" stroke-width="1.3"/><line x1="271.9" y1="2.4" x2="271.9" y2="5.4" stroke="#000" stroke-width="1.3"/><line x1="325.5" y1="2.4" x2="325.5" y2="5.4" stroke="#000" stroke-width="1.3"/>
<line x1="44.7" y1="233.5" x2="49.7" y2="233.5" stroke="#000" stroke-width="1.3"/><line x1="44.7" y1="191.4" x2="49.7" y2="191.4" stroke="#000" stroke-width="1.3"/><line x1="44.7" y1="149.3" x2="49.7" y2="149.3" stroke="#000" stroke-width="1.3"/><line x1="44.7" y1="107.2" x2="49.7" y2="107.2" stroke="#000" stroke-width="1.3"/><line x1="44.7" y1="65.1" x2="49.7" y2="65.1" stroke="#000" stroke-width="1.3"/><line x1="44.7" y1="23.0" x2="49.7" y2="23.0" stroke="#000" stroke-width="1.3"/>
<line x1="44.7" y1="212.4" x2="47.7" y2="212.4" stroke="#000" stroke-width="1.3"/><line x1="44.7" y1="170.3" x2="47.7" y2="170.3" stroke="#000" stroke-width="1.3"/><line x1="44.7" y1="128.2" x2="47.7" y2="128.2" stroke="#000" stroke-width="1.3"/><line x1="44.7" y1="86.2" x2="47.7" y2="86.2" stroke="#000" stroke-width="1.3"/><line x1="44.7" y1="44.0" x2="47.7" y2="44.0" stroke="#000" stroke-width="1.3"/>
<line x1="353.0" y1="233.5" x2="348.0" y2="233.5" stroke="#000" stroke-width="1.3"/><line x1="353.0" y1="191.4" x2="348.0" y2="191.4" stroke="#000" stroke-width="1.3"/><line x1="353.0" y1="149.3" x2="348.0" y2="149.3" stroke="#000" stroke-width="1.3"/><line x1="353.0" y1="107.2" x2="348.0" y2="107.2" stroke="#000" stroke-width="1.3"/><line x1="353.0" y1="65.1" x2="348.0" y2="65.1" stroke="#000" stroke-width="1.3"/><line x1="353.0" y1="23.0" x2="348.0" y2="23.0" stroke="#000" stroke-width="1.3"/>
<line x1="353.0" y1="212.4" x2="350.0" y2="212.4" stroke="#000" stroke-width="1.3"/><line x1="353.0" y1="170.3" x2="350.0" y2="170.3" stroke="#000" stroke-width="1.3"/><line x1="353.0" y1="128.2" x2="350.0" y2="128.2" stroke="#000" stroke-width="1.3"/><line x1="353.0" y1="86.2" x2="350.0" y2="86.2" stroke="#000" stroke-width="1.3"/><line x1="353.0" y1="44.0" x2="350.0" y2="44.0" stroke="#000" stroke-width="1.3"/>
<text x="84.9" y="267.8" class="ta" text-anchor="middle">300</text>
<text x="138.5" y="267.8" class="ta" text-anchor="middle">400</text>
<text x="192.0" y="267.8" class="ta" text-anchor="middle">500</text>
<text x="245.6" y="267.8" class="ta" text-anchor="middle">600</text>
<text x="299.1" y="267.8" class="ta" text-anchor="middle">700</text>
<text x="352.6" y="267.8" class="ta" text-anchor="middle">800</text>
<text x="40.6" y="236.8" class="ta" text-anchor="end" style="letter-spacing:0.7px">0.0</text>
<text x="40.6" y="194.7" class="ta" text-anchor="end" style="letter-spacing:0.7px">0.2</text>
<text x="40.6" y="152.6" class="ta" text-anchor="end" style="letter-spacing:0.7px">0.4</text>
<text x="40.6" y="110.5" class="ta" text-anchor="end" style="letter-spacing:0.7px">0.6</text>
<text x="40.6" y="68.4" class="ta" text-anchor="end" style="letter-spacing:0.7px">0.8</text>
<text x="40.6" y="26.3" class="ta" text-anchor="end" style="letter-spacing:0.7px">1.0</text>
<text class="lab" x="198.2" y="283.7" text-anchor="middle" letter-spacing="0.4">Wavelength (nm)</text>
<text class="laby" transform="translate(11.3,136.3) rotate(-90)" text-anchor="middle">Normalized absorbance (a.u.)</text>
<rect x="69.8" y="73.2" width="34.6" height="65" fill="none" stroke="#000" stroke-width="1.5"/>
<line x1="86.4" y1="180" x2="86.4" y2="154" stroke="#000" stroke-width="2"/>
<polygon points="86.4,147 83.3,156 89.5,156" fill="#000"/>
<text x="54.2" y="193.8" class="co">C=O transition</text>
<text x="87.7" y="25.2" class="pl" style="font-weight:normal">(<tspan style="font-weight:bold">a</tspan>)</text>
<line x1="49" y1="16" x2="66" y2="16" stroke="#f00" stroke-width="2"/>
<ellipse cx="62.4" cy="16" rx="2.7" ry="2.9" fill="#f00"/>
<polygon points="63,14 65.5,14.6 66.5,14.3 70.8,14.8 70.8,17.2 66.5,17.7 65.5,17.4 63,18" fill="#f00"/>
<rect x="276.6" y="54.4" width="74" height="121" fill="#fff" stroke="#444" stroke-width="1"/>
<line x1="283.2" y1="70.8" x2="313.4" y2="70.8" stroke="#000000" stroke-width="2"/>
<text x="315.6" y="74.1" class="lg">0 min</text>
<line x1="283.2" y1="87.0" x2="313.4" y2="87.0" stroke="#ff0000" stroke-width="2"/>
<text x="315.6" y="90.3" class="lg">30 min</text>
<line x1="283.2" y1="103.2" x2="313.4" y2="103.2" stroke="#0000ff" stroke-width="2"/>
<text x="315.6" y="106.5" class="lg">60 min</text>
<line x1="283.2" y1="119.5" x2="313.4" y2="119.5" stroke="#ff00ff" stroke-width="2"/>
<text x="315.6" y="122.8" class="lg">120 min</text>
<line x1="283.2" y1="135.7" x2="313.4" y2="135.7" stroke="#008000" stroke-width="2"/>
<text x="315.6" y="139.0" class="lg">180 min</text>
<line x1="283.2" y1="151.9" x2="313.4" y2="151.9" stroke="#000080" stroke-width="2"/>
<text x="315.6" y="155.2" class="lg">240 min</text>
<line x1="283.2" y1="168.1" x2="313.4" y2="168.1" stroke="#8000ff" stroke-width="2"/>
<text x="315.6" y="171.4" class="lg">300 min</text>
<rect x="142.8" y="10.7" width="132.7" height="108.89999999999999" fill="#fff" stroke="#222" stroke-width="1.3"/>
<line x1="141.3" y1="118.8" x2="142.8" y2="118.8" stroke="#333" stroke-width="1"/>
<text x="140.20000000000002" y="122.0" class="ti" text-anchor="end">225</text>
<line x1="141.3" y1="101.2" x2="142.8" y2="101.2" stroke="#333" stroke-width="1"/>
<text x="140.20000000000002" y="104.5" class="ti" text-anchor="end">230</text>
<line x1="141.3" y1="83.7" x2="142.8" y2="83.7" stroke="#333" stroke-width="1"/>
<text x="140.20000000000002" y="87.0" class="ti" text-anchor="end">235</text>
<line x1="141.3" y1="66.1" x2="142.8" y2="66.1" stroke="#333" stroke-width="1"/>
<text x="140.20000000000002" y="69.4" class="ti" text-anchor="end">240</text>
<line x1="141.3" y1="48.6" x2="142.8" y2="48.6" stroke="#333" stroke-width="1"/>
<text x="140.20000000000002" y="51.9" class="ti" text-anchor="end">245</text>
<line x1="141.3" y1="31.0" x2="142.8" y2="31.0" stroke="#333" stroke-width="1"/>
<text x="140.20000000000002" y="34.3" class="ti" text-anchor="end">250</text>
<line x1="141.3" y1="13.5" x2="142.8" y2="13.5" stroke="#333" stroke-width="1"/>
<text x="140.20000000000002" y="16.8" class="ti" text-anchor="end">255</text>
<line x1="142.8" y1="110.0" x2="144.3" y2="110.0" stroke="#333" stroke-width="1"/>
<line x1="142.8" y1="92.4" x2="144.3" y2="92.4" stroke="#333" stroke-width="1"/>
<line x1="142.8" y1="74.9" x2="144.3" y2="74.9" stroke="#333" stroke-width="1"/>
<line x1="142.8" y1="57.3" x2="144.3" y2="57.3" stroke="#333" stroke-width="1"/>
<line x1="142.8" y1="39.8" x2="144.3" y2="39.8" stroke="#333" stroke-width="1"/>
<line x1="142.8" y1="22.2" x2="144.3" y2="22.2" stroke="#333" stroke-width="1"/>
<line x1="151.9" y1="119.6" x2="151.9" y2="117.39999999999999" stroke="#222" stroke-width="1.3"/>
<text x="151.9" y="128.3" class="ti" text-anchor="middle">0</text>
<line x1="170.9" y1="119.6" x2="170.9" y2="117.39999999999999" stroke="#222" stroke-width="1.3"/>
<text x="170.9" y="128.3" class="ti" text-anchor="middle">50</text>
<line x1="190.0" y1="119.6" x2="190.0" y2="117.39999999999999" stroke="#222" stroke-width="1.3"/>
<text x="190.0" y="128.3" class="ti" text-anchor="middle">100</text>
<line x1="209.0" y1="119.6" x2="209.0" y2="117.39999999999999" stroke="#222" stroke-width="1.3"/>
<text x="209.0" y="128.3" class="ti" text-anchor="middle">150</text>
<line x1="228.0" y1="119.6" x2="228.0" y2="117.39999999999999" stroke="#222" stroke-width="1.3"/>
<text x="228.0" y="128.3" class="ti" text-anchor="middle">200</text>
<line x1="247.1" y1="119.6" x2="247.1" y2="117.39999999999999" stroke="#222" stroke-width="1.3"/>
<text x="247.1" y="128.3" class="ti" text-anchor="middle">250</text>
<line x1="266.1" y1="119.6" x2="266.1" y2="117.39999999999999" stroke="#222" stroke-width="1.3"/>
<text x="266.1" y="128.3" class="ti" text-anchor="middle">300</text>
<line x1="161.4" y1="119.6" x2="161.4" y2="118.39999999999999" stroke="#333" stroke-width="1"/>
<line x1="180.5" y1="119.6" x2="180.5" y2="118.39999999999999" stroke="#333" stroke-width="1"/>
<line x1="199.5" y1="119.6" x2="199.5" y2="118.39999999999999" stroke="#333" stroke-width="1"/>
<line x1="218.5" y1="119.6" x2="218.5" y2="118.39999999999999" stroke="#333" stroke-width="1"/>
<line x1="237.6" y1="119.6" x2="237.6" y2="118.39999999999999" stroke="#333" stroke-width="1"/>
<line x1="256.6" y1="119.6" x2="256.6" y2="118.39999999999999" stroke="#333" stroke-width="1"/>
<rect x="149.9" y="100.1" width="4" height="3.6" fill="#f00"/>
<rect x="161.3" y="87.5" width="4" height="3.6" fill="#f00"/>
<rect x="172.7" y="84.0" width="4" height="3.6" fill="#f00"/>
<rect x="195.6" y="81.1" width="4" height="3.6" fill="#f00"/>
<rect x="218.4" y="66.8" width="4" height="3.6" fill="#f00"/>
<rect x="241.3" y="54.8" width="4" height="3.6" fill="#f00"/>
<rect x="264.1" y="19.0" width="4" height="3.6" fill="#f00"/>
<text class="lab" x="210.6" y="142.9" text-anchor="middle" style="font-size:11px;letter-spacing:0.3px">Exposure Time (min)</text>
<text class="labi" transform="translate(120.5,69.5) rotate(-90)" text-anchor="middle">π-π<tspan dy="-4" font-size="7">*</tspan><tspan dy="4"> peak (nm)</tspan></text>
<rect x="409.2" y="2.4" width="308.40000000000003" height="251.1" fill="none" stroke="#000" stroke-width="1.7"/>
<line x1="406.6" y1="2.4" x2="409.2" y2="2.4" stroke="#000" stroke-width="1.7"/>
<line x1="406.6" y1="253.5" x2="409.2" y2="253.5" stroke="#000" stroke-width="1.7"/>
<polyline points="409.6,40.0 409.7,39.0 409.7,37.9 409.8,36.8 409.9,35.8 409.9,34.7 410.0,33.6 410.1,32.5 410.1,31.5 410.2,30.5 410.3,29.6 410.4,28.8 410.5,28.0 410.7,26.8 410.9,25.7 411.1,24.8 411.5,24.0 412.4,23.2 413.5,22.8 414.7,23.0 416.0,23.5 417.1,24.0 418.3,24.6 419.5,25.4 420.1,26.1 420.8,26.8 421.4,27.7 422.0,28.7 422.6,29.7 423.1,30.7 423.7,31.7 424.2,32.5 424.6,33.4 425.0,34.3 425.5,35.3 425.9,36.2 426.3,37.2 426.7,38.1 427.1,39.1 427.5,40.1 427.9,41.0 428.3,41.9 428.7,42.9 429.0,43.8 429.4,44.8 429.8,45.7 430.2,46.7 430.5,47.6 430.8,48.5 431.2,49.5 431.5,50.4 431.8,51.5 432.2,52.5 432.4,53.5 432.7,54.6 433.0,55.6 433.3,56.7 433.7,57.8 434.1,59.0 434.4,59.8 434.7,60.6 435.1,61.5 435.4,62.4 435.8,63.3 436.2,64.2 436.6,65.2 437.0,66.1 437.5,67.1 437.9,68.0 438.3,69.0 438.8,70.0 439.2,70.9 439.7,71.9 440.1,72.8 440.6,73.8 441.0,74.7 441.4,75.6 441.9,76.6 442.4,77.5 442.9,78.5 443.4,79.4 443.9,80.4 444.4,81.3 444.9,82.3 445.4,83.2 445.9,84.1 446.4,85.0 446.8,85.9 447.3,86.8 447.7,87.7 448.1,88.5 448.5,89.3 448.9,90.0 449.4,91.1 449.8,92.1 450.2,93.1 450.6,94.0 451.0,94.9 451.5,95.9 452.0,97.0 452.4,97.8 452.9,98.6 453.4,99.4 453.9,100.3 454.5,101.1 455.1,102.0 455.7,102.9 456.3,103.8 456.9,104.8 457.5,105.7 458.1,106.6 458.7,107.5 459.3,108.3 459.9,109.2 460.4,110.0 461.0,110.9 461.5,111.7 462.0,112.6 462.5,113.4 463.0,114.2 463.6,115.0 464.1,115.8 464.6,116.6 465.2,117.4 465.8,118.3 466.4,119.1 467.1,120.0 467.7,120.7 468.3,121.4 469.0,122.2 469.7,122.9 470.4,124.0 471.1,124.4 471.9,125.2 472.7,125.7 473.4,127.5 474.2,127.9 475.0,129.1 475.8,129.5 476.6,130.6 477.4,130.7 478.2,131.8 478.9,133.2 479.7,132.6 480.4,134.1 481.0,135.0 481.7,135.1 482.5,136.1 483.3,137.1 484.1,137.2 484.8,138.3 485.5,138.5 486.2,139.3 487.0,140.0 487.7,140.9 488.4,141.6 489.2,142.4 490.0,142.4 490.8,144.2 491.6,144.5 492.3,144.9 493.1,145.1 493.9,145.8 494.8,146.5 495.6,147.0 496.4,146.8 497.3,148.2 498.2,149.5 499.1,148.4 500.0,150.0 500.8,150.2 501.6,150.5 502.4,151.5 503.3,151.0 504.2,152.0 505.1,152.9 505.9,152.8 506.9,153.2 507.8,153.9 508.7,154.1 509.6,155.3 510.5,154.9 511.4,156.0 512.3,155.8 513.2,156.9 514.1,157.2 515.0,156.8 515.9,158.2 516.8,158.4 517.7,159.1 518.5,160.4 519.4,160.0 520.3,160.6 521.2,162.0 522.1,162.1 522.9,163.2 523.8,163.3 524.7,163.4 525.6,164.3 526.5,165.3 527.3,165.7 528.2,165.9 529.1,166.5 530.0,167.0 530.9,167.3 531.8,168.7 532.6,168.5 533.5,168.6 534.4,169.4 535.3,170.3 536.2,170.8 537.0,171.0 537.9,171.3 538.8,172.1 539.7,171.9 540.6,172.6 541.5,173.8 542.3,173.8 543.2,174.6 544.1,175.4 545.0,175.6 545.9,175.9 546.9,177.1 547.8,177.1 548.7,177.2 549.7,178.0 550.6,178.4 551.5,178.4 552.5,179.2 553.4,179.5 554.4,179.3 555.3,180.4 556.2,180.8 557.2,181.2 558.1,181.2 559.1,182.1 560.0,182.7 560.9,183.2 561.9,183.2 562.8,184.3 563.7,184.0 564.7,184.8 565.6,185.8 566.5,185.5 567.5,186.0 568.4,187.0 569.4,186.9 570.3,187.4 571.2,188.0 572.2,188.7 573.1,188.0 574.1,188.9 575.0,189.2 575.9,189.6 576.9,190.1 577.8,190.5 578.7,191.3 579.7,191.3 580.6,192.0 581.5,192.5 582.4,192.5 583.4,193.2 584.3,194.1 585.3,194.0 586.2,194.1 587.1,194.6 588.1,194.7 589.0,195.5 590.0,196.0 591.0,195.7 592.0,196.3 592.9,197.1 593.9,196.8 594.9,197.4 595.9,197.2 596.9,197.6 597.9,198.0 598.9,199.2 599.9,198.6 600.9,198.9 601.9,199.1 602.9,199.6 603.9,200.1 605.0,200.3 606.0,201.2 607.0,200.8 607.9,201.6 608.9,201.4 609.8,201.8 610.8,201.4 611.8,202.1 612.8,202.4 613.7,202.6 614.7,202.2 615.7,203.6 616.7,203.4 617.7,203.7 618.7,204.0 619.8,204.3 620.8,204.7 621.8,204.4 622.9,204.8 623.9,205.5 625.0,205.7 625.9,205.7 626.9,205.8 627.8,205.9 628.8,206.4 629.8,207.0 630.8,206.4 631.8,207.5 632.8,207.4 633.8,207.2 634.9,207.8 635.9,207.2 636.9,207.2 638.0,207.6 639.0,208.0 640.0,208.2 641.1,208.3 642.1,208.7 643.1,208.1 644.1,209.2 645.1,208.7 646.1,209.1 647.1,209.4 648.1,209.3 649.0,209.4 650.0,209.6 651.1,210.2 652.1,210.6 653.1,210.7 654.1,210.3 655.2,210.6 656.2,210.7 657.2,211.3 658.2,210.6 659.2,211.9 660.1,211.5 661.1,211.6 662.1,212.1 663.1,212.5 664.1,212.4 665.1,212.9 666.0,212.7 667.0,213.3 668.0,213.5 669.0,213.2 670.0,213.9 671.0,213.7 672.0,213.8 673.0,213.7 674.0,214.1 674.9,214.7 675.9,214.2 676.9,215.1 677.9,215.2 678.8,215.4 679.8,214.8 680.8,215.8 681.8,216.3 682.8,216.0 683.8,216.5 684.8,215.9 685.8,217.2 686.8,216.9 687.9,217.7 688.9,216.9 690.0,218.0 690.9,217.9 691.9,218.4 692.8,218.0 693.8,218.3 694.7,219.4 695.7,218.5 696.7,218.7 697.7,219.0 698.7,218.9 699.7,219.9 700.7,220.2 701.7,219.5 702.7,219.3 703.7,220.5 704.8,220.6 705.8,220.7 706.8,220.9 707.8,220.4 708.9,220.8 709.9,220.5 710.9,220.7 711.9,221.7 713.0,221.2 714.0,222.4 715.0,221.8 716.0,221.7 717.0,222.4" fill="none" stroke="#000000" stroke-width="1.6" stroke-linejoin="round"/>
<line x1="530.2" y1="164.2" x2="530.2" y2="169.2" stroke="#000000" stroke-width="1.2"/>
<line x1="606.8" y1="198.0" x2="606.8" y2="203.0" stroke="#000000" stroke-width="1.2"/>
<polyline points="409.5,90.0 409.5,89.0 409.5,88.0 409.5,87.0 409.5,86.0 409.5,85.0 409.5,84.0 409.5,82.9 409.5,81.9 409.6,80.9 409.6,79.9 409.6,78.9 409.6,77.9 409.6,76.9 409.6,75.9 409.6,74.8 409.6,73.8 409.6,72.8 409.6,71.8 409.6,70.8 409.6,69.9 409.6,68.9 409.6,67.9 409.7,66.9 409.7,65.9 409.7,65.0 409.7,64.0 409.7,63.0 409.7,61.9 409.8,60.8 409.8,59.8 409.8,58.7 409.8,57.6 409.8,56.6 409.9,55.5 409.9,54.4 409.9,53.4 409.9,52.3 410.0,51.3 410.0,50.3 410.0,49.3 410.1,48.3 410.1,47.3 410.1,46.4 410.2,45.5 410.2,44.5 410.2,43.7 410.3,42.8 410.3,42.0 410.4,40.8 410.4,39.7 410.5,38.6 410.5,37.6 410.6,36.6 410.7,35.6 410.7,34.7 410.8,33.8 410.9,32.9 411.0,32.0 411.1,30.9 411.2,29.8 411.4,28.8 411.5,27.8 411.7,26.8 412.0,26.0 412.5,24.7 413.2,23.6 414.0,23.0 414.8,23.1 415.7,23.7 416.7,24.5 417.7,25.5 418.5,26.5 419.1,27.3 419.6,28.3 420.0,29.3 420.5,30.3 420.8,31.4 421.2,32.6 421.6,33.8 421.9,34.7 422.2,35.6 422.4,36.6 422.7,37.6 422.9,38.6 423.1,39.7 423.3,40.7 423.6,41.8 423.8,42.9 424.0,43.9 424.2,45.0 424.4,46.0 424.6,47.0 424.7,48.1 424.9,49.1 425.0,50.1 425.2,51.2 425.4,52.2 425.5,53.3 425.7,54.3 425.9,55.3 426.1,56.4 426.3,57.4 426.5,58.4 426.8,59.5 427.1,60.5 427.4,61.5 427.7,62.6 428.0,63.6 428.3,64.6 428.6,65.6 428.9,66.6 429.2,67.6 429.5,68.6 429.8,69.5 430.1,70.5 430.4,71.5 430.7,72.5 430.9,73.4 431.2,74.3 431.5,75.3 431.8,76.2 432.1,77.2 432.4,78.2 432.7,79.1 433.0,80.1 433.4,81.1 433.7,82.1 434.1,83.1 434.4,84.1 434.8,85.1 435.2,86.1 435.5,87.1 435.9,88.1 436.3,89.1 436.7,90.0 437.1,90.9 437.5,91.9 438.0,92.8 438.4,93.7 438.8,94.6 439.3,95.5 439.7,96.4 440.2,97.3 440.6,98.2 441.1,99.1 441.5,100.0 442.0,101.0 442.4,102.0 442.8,103.0 443.2,104.0 443.7,105.0 444.1,106.0 444.5,107.0 445.0,108.0 445.5,109.0 446.0,110.0 446.5,110.9 447.1,111.8 447.7,112.7 448.3,113.6 448.9,114.4 449.5,115.3 450.1,116.2 450.7,117.1 451.3,118.0 451.9,119.0 452.5,120.0 452.9,120.8 453.4,121.7 453.8,122.6 454.2,123.5 454.5,124.4 454.9,125.4 455.3,126.3 455.7,127.3 456.1,128.3 456.5,129.2 456.9,130.2 457.3,131.2 457.7,132.2 458.1,133.1 458.5,134.1 459.0,135.0 459.5,135.9 459.9,136.8 460.4,137.7 460.9,138.7 461.4,139.6 461.9,140.5 462.4,141.4 463.0,142.4 463.5,143.3 464.0,144.2 464.6,145.1 465.1,146.0 465.7,146.8 466.2,147.7 466.8,148.6 467.4,149.4 468.0,150.2 468.6,151.0 469.3,151.9 470.0,152.7 470.6,154.1 471.3,154.5 472.0,154.7 472.7,156.0 473.4,157.1 474.1,157.2 474.8,157.8 475.6,159.2 476.3,159.6 477.0,159.9 477.8,160.9 478.5,161.4 479.3,162.5 480.1,163.2 480.9,164.2 481.7,164.8 482.5,164.6 483.4,166.0 484.2,166.8 485.1,167.3 485.9,168.2 486.7,168.3 487.6,168.8 488.4,170.1 489.2,170.0 490.0,170.2 490.8,172.0 491.7,172.1 492.5,172.9 493.3,173.2 494.1,173.9 494.9,174.6 495.7,175.5 496.5,176.4 497.4,176.1 498.2,177.9 499.1,177.9 500.0,178.6 500.8,179.8 501.5,180.1 502.3,180.2 503.1,182.1 503.9,181.7 504.7,182.8 505.6,183.4 506.4,184.5 507.2,184.5 508.1,185.6 509.0,185.6 509.8,186.9 510.7,186.9 511.5,187.6 512.4,189.0 513.3,189.0 514.1,189.5 515.0,190.8 515.9,190.7 516.8,190.8 517.7,191.8 518.6,191.6 519.5,192.8 520.4,193.3 521.3,193.1 522.2,193.5 523.1,194.2 524.1,194.6 525.0,194.7 526.0,195.6 526.9,195.2 527.9,196.2 529.0,196.7 530.0,197.2 530.8,197.8 531.7,197.7 532.5,198.7 533.4,198.9 534.3,199.2 535.2,199.4 536.1,199.9 537.0,200.9 537.9,200.9 538.9,201.7 539.8,202.6 540.8,203.0 541.7,203.7 542.7,203.5 543.7,203.7 544.6,204.9 545.6,205.1 546.6,205.9 547.5,205.9 548.5,206.8 549.5,207.1 550.4,207.4 551.3,207.8 552.3,208.1 553.2,208.4 554.1,208.8 555.0,209.3 556.0,209.2 557.1,210.3 558.1,210.0 559.1,210.6 560.2,210.6 561.2,210.8 562.2,211.8 563.2,211.2 564.3,211.1 565.3,211.6 566.3,211.9 567.3,213.0 568.3,212.5 569.3,213.0 570.2,212.5 571.2,213.2 572.2,213.5 573.1,214.1 574.1,213.4 575.0,214.1 576.1,214.3 577.1,214.1 578.1,214.7 579.1,214.8 580.1,214.3 581.1,215.6 582.1,215.8 583.1,215.7 584.1,215.7 585.0,216.9 586.0,216.7 587.0,217.2 588.0,217.5 589.0,217.1 590.0,217.8 591.0,217.6 592.0,217.9 592.9,218.1 593.9,218.4 594.9,219.0 595.9,218.8 596.9,218.9 597.9,219.1 598.9,219.5 599.9,219.3 600.9,219.6 601.9,220.0 602.9,220.0 603.9,220.3 605.0,220.3 606.0,221.4 607.0,221.3 607.9,221.2 608.9,221.1 609.8,222.0 610.8,221.5 611.8,221.5 612.8,221.8 613.7,221.9 614.7,222.4 615.7,222.0 616.7,222.9 617.7,222.0 618.7,222.6 619.8,222.1 620.8,223.2 621.8,222.6 622.9,222.8 623.9,223.2 625.0,223.4 625.9,222.7 626.9,223.0 627.9,222.8 628.8,223.4 629.8,223.4 630.8,223.3 631.8,223.3 632.8,223.5 633.9,223.4 634.9,223.9 635.9,224.3 636.9,223.2 638.0,223.9 639.0,223.8 640.0,224.2 641.1,223.8 642.1,224.1 643.1,223.9 644.1,224.5 645.1,224.4 646.1,224.4 647.1,224.6 648.1,224.5 649.0,224.1 650.0,224.9 651.1,224.9 652.1,224.8 653.1,225.3 654.1,225.5 655.2,224.8 656.2,225.0 657.2,225.9 658.2,225.9 659.2,225.2 660.1,225.2 661.1,225.5 662.1,225.6 663.1,225.3 664.1,226.0 665.1,225.6 666.0,225.7 667.0,226.6 668.0,226.1 669.0,226.4 670.0,226.7 671.0,226.9 672.0,226.6 673.0,226.8 674.0,226.6 674.9,227.5 675.9,227.2 676.9,226.7 677.9,227.2 678.8,227.5 679.8,227.5 680.8,228.1 681.8,228.0 682.8,227.4 683.8,227.7 684.8,227.3 685.8,228.0 686.8,228.0 687.9,229.0 688.9,228.2 690.0,227.5 690.9,228.0 691.9,228.4 692.8,228.0 693.8,228.2 694.8,228.4 695.7,228.7 696.7,228.6 697.7,228.4 698.7,229.1 699.7,228.7 700.7,228.8 701.7,228.5 702.7,228.8 703.8,229.4 704.8,228.6 705.8,229.3 706.8,229.6 707.8,229.3 708.9,229.6 709.9,229.1 710.9,230.1 711.9,230.1 713.0,229.8 714.0,229.2 715.0,229.5 716.0,230.3 717.0,230.6" fill="none" stroke="#ff0000" stroke-width="1.6" stroke-linejoin="round"/>
<line x1="530.2" y1="194.5" x2="530.2" y2="199.5" stroke="#ff0000" stroke-width="1.2"/>
<line x1="606.8" y1="218.1" x2="606.8" y2="223.1" stroke="#ff0000" stroke-width="1.2"/>
<polyline points="409.5,66.0 409.5,65.0 409.5,64.0 409.6,63.0 409.6,61.9 409.6,60.9 409.6,59.9 409.6,58.9 409.6,57.9 409.6,56.8 409.7,55.8 409.7,54.8 409.7,53.8 409.7,52.9 409.7,51.9 409.8,50.9 409.8,50.0 409.8,48.9 409.9,47.9 409.9,46.8 409.9,45.8 410.0,44.8 410.0,43.7 410.1,42.7 410.1,41.8 410.2,40.8 410.2,39.8 410.3,38.9 410.3,38.0 410.4,36.9 410.4,35.8 410.4,34.8 410.5,33.8 410.5,32.8 410.6,31.8 410.7,30.9 410.8,30.0 411.0,28.9 411.2,27.8 411.4,26.8 411.7,25.8 412.0,25.0 412.7,23.7 413.5,23.0 414.1,23.2 414.7,23.8 415.4,24.6 416.2,25.6 416.9,26.6 417.5,27.5 418.1,28.4 418.7,29.4 419.2,30.4 419.7,31.5 420.2,32.6 420.6,33.8 420.9,34.6 421.2,35.6 421.4,36.5 421.6,37.6 421.9,38.6 422.1,39.6 422.3,40.7 422.5,41.8 422.7,42.9 423.0,43.9 423.2,45.0 423.4,46.0 423.7,47.0 423.9,48.1 424.2,49.1 424.4,50.1 424.7,51.2 425.0,52.2 425.2,53.3 425.5,54.3 425.8,55.3 426.0,56.4 426.3,57.4 426.6,58.4 426.9,59.5 427.2,60.5 427.5,61.5 427.8,62.6 428.1,63.6 428.4,64.6 428.7,65.6 428.9,66.6 429.2,67.6 429.5,68.6 429.8,69.5 430.1,70.5 430.4,71.5 430.7,72.5 430.9,73.4 431.2,74.3 431.5,75.3 431.8,76.2 432.1,77.2 432.4,78.2 432.7,79.1 433.0,80.1 433.4,81.1 433.7,82.1 434.1,83.1 434.4,84.1 434.8,85.1 435.2,86.1 435.5,87.1 435.9,88.1 436.3,89.1 436.7,90.0 437.1,90.9 437.5,91.9 437.9,92.8 438.4,93.7 438.8,94.6 439.2,95.5 439.7,96.4 440.1,97.3 440.6,98.2 441.0,99.1 441.5,100.0 442.0,100.9 442.4,101.8 442.9,102.7 443.4,103.7 443.9,104.6 444.4,105.5 444.9,106.4 445.4,107.3 445.9,108.2 446.5,109.1 447.0,110.0 447.6,110.9 448.1,111.8 448.7,112.7 449.2,113.6 449.8,114.5 450.4,115.4 451.0,116.3 451.6,117.2 452.2,118.1 452.9,119.1 453.5,120.0 454.0,120.8 454.6,121.6 455.2,122.4 455.7,123.2 456.3,124.0 456.9,124.9 457.5,125.7 458.1,126.5 458.7,127.4 459.4,128.2 460.0,129.1 460.6,129.9 461.2,130.8 461.9,131.6 462.5,132.5 463.1,133.3 463.7,134.1 464.2,134.9 464.8,135.7 465.4,136.5 466.0,137.4 466.6,138.2 467.2,139.1 467.9,139.9 468.5,140.7 469.1,141.5 469.7,142.4 470.3,143.3 471.0,144.4 471.6,144.5 472.2,145.5 472.9,146.3 473.5,147.1 474.2,147.2 474.9,148.9 475.6,149.7 476.3,149.6 477.0,150.3 477.7,151.6 478.4,151.9 479.1,152.0 479.9,153.8 480.6,154.2 481.3,154.7 482.1,156.2 482.9,156.2 483.7,156.6 484.5,157.5 485.3,157.8 486.1,158.5 486.9,159.5 487.7,159.8 488.6,160.4 489.4,161.8 490.3,162.1 491.1,162.7 492.0,163.2 492.9,163.7 493.8,164.7 494.7,164.7 495.6,166.0 496.5,165.6 497.4,166.4 498.3,166.5 499.1,167.4 500.0,168.3 500.9,169.1 501.8,168.9 502.6,169.7 503.5,170.1 504.4,170.5 505.3,170.8 506.2,171.8 507.0,171.6 507.9,172.8 508.8,173.2 509.7,173.5 510.6,173.8 511.5,174.1 512.3,175.8 513.2,175.1 514.1,176.6 515.0,176.7 515.9,176.9 516.9,177.1 517.8,178.3 518.7,179.0 519.7,178.5 520.6,179.2 521.5,180.2 522.5,180.4 523.4,181.4 524.4,180.9 525.3,181.8 526.2,181.6 527.2,183.2 528.1,182.6 529.1,182.6 530.0,183.7 530.9,184.1 531.9,185.2 532.8,184.9 533.7,185.4 534.7,186.0 535.6,186.7 536.6,186.5 537.5,187.3 538.4,187.5 539.4,187.6 540.3,188.1 541.2,188.5 542.2,188.5 543.1,189.6 544.1,189.1 545.0,190.4 545.9,190.7 546.9,190.8 547.8,190.9 548.8,191.5 549.7,192.1 550.6,192.6 551.6,192.9 552.5,193.5 553.4,193.4 554.4,194.1 555.3,193.8 556.3,195.1 557.2,195.2 558.1,195.4 559.1,196.4 560.0,196.6 560.9,195.8 561.9,197.3 562.8,197.2 563.7,198.5 564.7,199.4 565.6,198.8 566.5,199.5 567.5,199.8 568.4,200.4 569.3,201.0 570.3,201.6 571.2,201.2 572.2,202.5 573.1,202.0 574.0,202.8 575.0,203.4 576.0,203.6 577.0,203.3 578.0,203.6 579.0,204.0 580.0,204.4 580.9,205.0 581.9,204.4 582.9,205.2 583.9,205.5 585.0,205.7 586.0,205.8 587.0,206.4 588.0,206.3 589.0,206.6 590.0,206.8 591.0,207.5 592.0,206.5 592.9,207.9 593.9,207.6 594.9,207.9 595.9,207.9 596.9,207.9 597.9,208.7 598.9,208.9 599.9,209.6 600.9,209.2 601.9,210.5 602.9,210.3 603.9,210.4 605.0,210.5 606.0,210.7 607.0,210.8 607.9,211.2 608.9,211.6 609.8,211.7 610.8,211.5 611.8,212.1 612.8,212.1 613.7,212.6 614.7,213.4 615.7,213.1 616.7,212.9 617.7,212.6 618.7,212.9 619.8,212.9 620.8,213.9 621.8,213.6 622.9,214.0 623.9,213.9 625.0,214.3 625.9,214.9 626.9,214.3 627.9,214.6 628.8,214.5 629.8,215.2 630.8,214.7 631.8,214.7 632.8,214.8 633.9,214.9 634.9,215.6 635.9,216.5 636.9,215.3 638.0,216.1 639.0,216.0 640.0,215.6 641.1,216.0 642.1,216.1 643.1,216.0 644.1,217.0 645.1,215.8 646.1,216.7 647.1,216.7 648.1,216.5 649.0,216.9 650.0,217.2 651.0,217.1 652.1,217.2 653.1,217.4 654.1,216.6 655.2,217.9 656.2,218.2 657.2,217.9 658.2,217.9 659.2,217.2 660.1,217.7 661.1,217.5 662.1,217.7 663.1,218.3 664.1,217.8 665.1,218.1 666.0,217.6 667.0,218.3 668.0,218.4 669.0,218.3 670.0,218.3 671.0,219.4 672.0,218.4 673.0,218.5 674.0,218.7 674.9,219.5 675.9,220.0 676.9,219.5 677.9,219.2 678.8,219.4 679.8,220.1 680.8,219.5 681.8,220.4 682.8,220.5 683.8,220.2 684.8,220.5 685.8,220.7 686.8,221.1 687.9,220.3 688.9,221.2 690.0,220.8 690.9,220.7 691.9,221.1 692.8,221.1 693.8,221.0 694.8,220.9 695.7,221.2 696.7,222.2 697.7,222.4 698.7,222.1 699.7,222.4 700.7,221.9 701.7,222.2 702.7,222.4 703.8,222.1 704.8,222.2 705.8,222.7 706.8,222.7 707.9,222.5 708.9,223.1 709.9,223.0 710.9,223.6 711.9,223.3 713.0,223.3 714.0,223.6 715.0,223.6 716.0,223.6 717.0,223.8" fill="none" stroke="#0000ff" stroke-width="1.6" stroke-linejoin="round"/>
<line x1="530.2" y1="180.9" x2="530.2" y2="185.9" stroke="#0000ff" stroke-width="1.2"/>
<line x1="606.8" y1="208.4" x2="606.8" y2="213.4" stroke="#0000ff" stroke-width="1.2"/>
<line x1="445.1" y1="253.5" x2="445.1" y2="248.5" stroke="#000" stroke-width="1.3"/><line x1="490.2" y1="253.5" x2="490.2" y2="248.5" stroke="#000" stroke-width="1.3"/><line x1="535.4" y1="253.5" x2="535.4" y2="248.5" stroke="#000" stroke-width="1.3"/><line x1="580.5" y1="253.5" x2="580.5" y2="248.5" stroke="#000" stroke-width="1.3"/><line x1="625.6" y1="253.5" x2="625.6" y2="248.5" stroke="#000" stroke-width="1.3"/><line x1="670.8" y1="253.5" x2="670.8" y2="248.5" stroke="#000" stroke-width="1.3"/><line x1="715.9" y1="253.5" x2="715.9" y2="248.5" stroke="#000" stroke-width="1.3"/>
<line x1="422.5" y1="253.5" x2="422.5" y2="256.5" stroke="#000" stroke-width="1.3"/><line x1="467.7" y1="253.5" x2="467.7" y2="256.5" stroke="#000" stroke-width="1.3"/><line x1="512.8" y1="253.5" x2="512.8" y2="256.5" stroke="#000" stroke-width="1.3"/><line x1="557.9" y1="253.5" x2="557.9" y2="256.5" stroke="#000" stroke-width="1.3"/><line x1="603.1" y1="253.5" x2="603.1" y2="256.5" stroke="#000" stroke-width="1.3"/><line x1="648.2" y1="253.5" x2="648.2" y2="256.5" stroke="#000" stroke-width="1.3"/><line x1="693.3" y1="253.5" x2="693.3" y2="256.5" stroke="#000" stroke-width="1.3"/>
<line x1="409.2" y1="233.3" x2="414.2" y2="233.3" stroke="#000" stroke-width="1.3"/><line x1="409.2" y1="191.2" x2="414.2" y2="191.2" stroke="#000" stroke-width="1.3"/><line x1="409.2" y1="149.1" x2="414.2" y2="149.1" stroke="#000" stroke-width="1.3"/><line x1="409.2" y1="107.0" x2="414.2" y2="107.0" stroke="#000" stroke-width="1.3"/><line x1="409.2" y1="64.9" x2="414.2" y2="64.9" stroke="#000" stroke-width="1.3"/><line x1="409.2" y1="22.8" x2="414.2" y2="22.8" stroke="#000" stroke-width="1.3"/>
<line x1="409.2" y1="212.2" x2="406.2" y2="212.2" stroke="#000" stroke-width="1.3"/><line x1="409.2" y1="170.2" x2="406.2" y2="170.2" stroke="#000" stroke-width="1.3"/><line x1="409.2" y1="128.1" x2="406.2" y2="128.1" stroke="#000" stroke-width="1.3"/><line x1="409.2" y1="86.0" x2="406.2" y2="86.0" stroke="#000" stroke-width="1.3"/><line x1="409.2" y1="43.8" x2="406.2" y2="43.8" stroke="#000" stroke-width="1.3"/>
<text x="445.1" y="267.5" class="tb" text-anchor="middle">300</text>
<text x="490.2" y="267.5" class="tb" text-anchor="middle">400</text>
<text x="535.4" y="267.5" class="tb" text-anchor="middle">500</text>
<text x="580.5" y="267.5" class="tb" text-anchor="middle">600</text>
<text x="625.6" y="267.5" class="tb" text-anchor="middle">700</text>
<text x="670.8" y="267.5" class="tb" text-anchor="middle">800</text>
<text x="715.9" y="267.5" class="tb" text-anchor="middle">900</text>
<text x="404" y="236.7" class="tb" text-anchor="end">0.0</text>
<text x="404" y="194.6" class="tb" text-anchor="end">0.2</text>
<text x="404" y="152.5" class="tb" text-anchor="end">0.4</text>
<text x="404" y="110.4" class="tb" text-anchor="end">0.6</text>
<text x="404" y="68.3" class="tb" text-anchor="end">0.8</text>
<text x="404" y="26.2" class="tb" text-anchor="end">1.0</text>
<text class="lab" x="562.8" y="284.4" text-anchor="middle" letter-spacing="0.5">Wavelength(nm)</text>
<text class="laby" transform="translate(380.2,127.9) rotate(-90)" text-anchor="middle">Normalized absorbance (a.u.)</text>
<rect x="412" y="12.2" width="19.7" height="59" fill="none" stroke="#000" stroke-width="1.5"/>
<text x="441.8" y="25.3" class="pl" style="font-weight:normal">(<tspan style="font-weight:bold">b</tspan>)</text>
<line x1="445.7" y1="37.3" x2="483" y2="37.3" stroke="#f00" stroke-width="2"/>
<polygon points="481,34.3 486,35.8 492.2,37.3 486,38.8 481,40.3" fill="#f00"/>
<rect x="614.2" y="130.6" width="102.2" height="64.6" fill="#fff" stroke="#222" stroke-width="1.1"/>
<line x1="623" y1="145.9" x2="646.8" y2="145.9" stroke="#000000" stroke-width="2"/>
<text x="648.6" y="149.2" class="lb">1.77 W/cm<tspan dy="-5.6" style="font-size:10.5px">2</tspan></text>
<line x1="623" y1="166.8" x2="646.8" y2="166.8" stroke="#ff0000" stroke-width="2"/>
<text x="653" y="170.1" class="lb">0.32 W/cm<tspan dy="-5.6" style="font-size:10.5px">2</tspan></text>
<line x1="623" y1="187.6" x2="646.8" y2="187.6" stroke="#0000ff" stroke-width="2"/>
<text x="653" y="190.9" class="lb">0.13 W/cm<tspan dy="-5.6" style="font-size:10.5px">2</tspan></text>
<rect x="507.6" y="3.0" width="126.60000000000002" height="106.6" fill="#fff" stroke="#555" stroke-width="1"/>
<line x1="507.6" y1="3.0" x2="507.6" y2="109.6" stroke="#000" stroke-width="1.3"/>
<line x1="507.6" y1="109.6" x2="634.2" y2="109.6" stroke="#000" stroke-width="1.3"/>
<line x1="507.6" y1="15.0" x2="509.6" y2="15.0" stroke="#000" stroke-width="1"/>
<line x1="507.6" y1="24.7" x2="509.6" y2="24.7" stroke="#000" stroke-width="1"/>
<line x1="507.6" y1="34.4" x2="509.6" y2="34.4" stroke="#000" stroke-width="1"/>
<line x1="507.6" y1="44.1" x2="509.6" y2="44.1" stroke="#000" stroke-width="1"/>
<line x1="507.6" y1="53.8" x2="509.6" y2="53.8" stroke="#000" stroke-width="1"/>
<line x1="507.6" y1="63.5" x2="509.6" y2="63.5" stroke="#000" stroke-width="1"/>
<line x1="507.6" y1="73.2" x2="509.6" y2="73.2" stroke="#000" stroke-width="1"/>
<line x1="507.6" y1="82.9" x2="509.6" y2="82.9" stroke="#000" stroke-width="1"/>
<line x1="507.6" y1="92.6" x2="509.6" y2="92.6" stroke="#000" stroke-width="1"/>
<line x1="507.6" y1="102.3" x2="509.6" y2="102.3" stroke="#000" stroke-width="1"/>
<line x1="521.5" y1="109.6" x2="521.5" y2="107.8" stroke="#000" stroke-width="1"/>
<line x1="535.6" y1="109.6" x2="535.6" y2="107.8" stroke="#000" stroke-width="1"/>
<line x1="549.6" y1="109.6" x2="549.6" y2="107.8" stroke="#000" stroke-width="1"/>
<line x1="563.7" y1="109.6" x2="563.7" y2="107.8" stroke="#000" stroke-width="1"/>
<line x1="577.8" y1="109.6" x2="577.8" y2="107.8" stroke="#000" stroke-width="1"/>
<line x1="591.8" y1="109.6" x2="591.8" y2="107.8" stroke="#000" stroke-width="1"/>
<line x1="605.9" y1="109.6" x2="605.9" y2="107.8" stroke="#000" stroke-width="1"/>
<line x1="619.9" y1="109.6" x2="619.9" y2="107.8" stroke="#000" stroke-width="1"/>
<text x="507.7" y="118.7" class="tj" text-anchor="middle" letter-spacing="0.5">220</text>
<text x="535.8" y="118.7" class="tj" text-anchor="middle" letter-spacing="0.5">230</text>
<text x="563.9" y="118.7" class="tj" text-anchor="middle" letter-spacing="0.5">240</text>
<text x="592.0" y="118.7" class="tj" text-anchor="middle" letter-spacing="0.5">250</text>
<text x="620.1" y="118.7" class="tj" text-anchor="middle" letter-spacing="0.5">260</text>
<line x1="538.3" y1="16" x2="538.3" y2="109.6" stroke="#f00" stroke-width="1.2" stroke-dasharray="3,3"/>
<line x1="551.8" y1="16" x2="551.8" y2="109.6" stroke="#f00" stroke-width="1.2" stroke-dasharray="3,3"/>
<line x1="565.5" y1="16" x2="565.5" y2="109.6" stroke="#f00" stroke-width="1.2" stroke-dasharray="3,3"/>
<polyline points="516.8,110.2 516.9,109.2 516.9,108.3 517.0,106.4 517.0,105.7 517.1,104.7 517.1,103.8 517.2,102.6 517.3,101.5 517.3,100.8 517.4,99.6 517.4,98.2 517.5,97.9 517.5,96.7 517.6,95.2 517.7,94.6 517.7,93.1 517.8,92.6 517.8,91.2 517.9,90.0 518.0,89.1 518.0,88.0 518.1,87.3 518.2,86.4 518.2,85.4 518.3,84.2 518.4,82.2 518.5,82.2 518.5,80.5 518.6,80.1 518.7,79.3 518.7,78.0 518.8,76.7 518.9,75.8 519.0,74.7 519.1,73.6 519.1,72.6 519.2,71.5 519.3,71.1 519.5,69.8 519.6,69.1 519.7,67.8 519.8,67.0 520.0,65.9 520.2,65.0 520.4,64.0 520.6,62.8 520.9,61.4 521.1,60.2 521.3,59.9 521.6,58.3 521.9,57.3 522.1,56.8 522.4,55.8 522.7,54.8 523.0,53.8 523.3,53.9 524.0,52.1 524.8,51.3 525.6,49.9 526.0,48.8 526.3,47.9 526.6,47.4 526.9,46.3 527.2,44.9 527.6,43.5 527.9,42.3 528.2,41.5 528.6,40.2 529.0,40.0 529.5,39.1 530.1,38.7 530.7,37.3 531.3,36.1 532.0,35.2 532.6,33.5 533.1,33.5 533.6,32.8 534.1,32.3 534.7,31.3 535.2,30.4 535.8,29.3 536.3,28.6 536.8,27.9 537.3,26.3 537.8,25.7 538.4,24.3 539.0,24.1 539.5,23.0 540.1,21.9 540.7,20.3 541.2,19.8 541.9,18.6 542.6,17.6 543.2,16.5 543.9,15.9 544.7,15.3 545.5,15.8 546.3,16.1 547.2,16.7 548.1,17.4 549.0,17.9 550.1,18.6 551.1,18.6 552.2,18.9 553.4,18.8 554.4,18.4 555.5,18.9 556.7,18.0 557.9,18.3 559.0,18.1 560.2,17.5 561.2,17.9 562.2,18.3 563.3,18.6 564.3,19.0 565.3,20.1 566.3,20.3 567.2,21.0 568.0,21.4 568.8,22.4 569.5,23.0 570.1,24.2 570.8,25.2 571.5,25.8 572.5,26.2 573.7,26.3 574.8,27.0 575.8,27.7 576.3,28.2 576.6,28.9 576.9,30.3 577.1,32.0 577.4,32.3 577.6,33.6 578.0,34.6 578.4,34.6 579.0,36.3 579.7,36.9 580.4,38.3 581.2,38.6 582.0,39.1 582.8,39.9 583.6,40.6 584.5,41.0 585.4,41.6 586.3,41.6 587.2,42.5 588.0,43.4 588.6,44.6 589.1,45.1 589.6,46.0 590.0,47.4 590.5,48.4 591.0,49.6 591.5,50.4 592.2,51.0 592.8,52.0 593.6,52.8 594.3,53.7 595.1,54.5 595.8,55.2 596.4,55.5 597.0,56.8 597.5,57.2 598.1,58.6 598.7,59.5 599.3,59.8 600.0,61.4 600.6,62.3 601.2,62.9 601.8,64.2 602.5,65.1 603.2,65.1 603.9,66.6 604.6,67.3 605.3,68.2 605.9,69.2 606.6,69.6 607.2,70.5 607.7,71.3 608.2,72.2 608.6,73.3 609.0,73.9 609.4,74.9 609.7,76.3 610.1,77.1 610.5,78.2 610.9,78.4 611.3,79.7 611.8,80.7 612.3,81.9 612.8,82.7 613.3,84.1 613.8,84.8 614.3,85.8 614.8,86.8 615.2,87.9 615.6,88.5 616.0,89.9 616.4,90.7 616.8,91.5 617.2,92.4 617.6,93.5 618.0,94.6 618.4,95.5 618.8,96.3 619.3,97.4 619.8,98.1 620.3,99.5 620.8,100.1 621.3,100.5 621.7,102.4 622.2,103.0 622.7,103.4 623.3,104.7 623.8,105.4 624.4,107.2 624.9,107.6 625.5,107.8 626.0,109.4" fill="none" stroke="#000000" stroke-width="1.5" stroke-linejoin="round"/>
<rect x="515.6" y="105.0" width="2.8" height="2.8" fill="#000000"/>
<rect x="515.7" y="102.4" width="2.8" height="2.8" fill="#000000"/>
<rect x="516.0" y="98.2" width="2.8" height="2.8" fill="#000000"/>
<rect x="516.2" y="93.8" width="2.8" height="2.8" fill="#000000"/>
<rect x="516.4" y="89.8" width="2.8" height="2.8" fill="#000000"/>
<rect x="516.6" y="86.6" width="2.8" height="2.8" fill="#000000"/>
<rect x="516.9" y="82.8" width="2.8" height="2.8" fill="#000000"/>
<rect x="517.2" y="78.7" width="2.8" height="2.8" fill="#000000"/>
<rect x="517.5" y="74.4" width="2.8" height="2.8" fill="#000000"/>
<rect x="517.8" y="70.1" width="2.8" height="2.8" fill="#000000"/>
<rect x="518.3" y="66.4" width="2.8" height="2.8" fill="#000000"/>
<rect x="519.0" y="62.6" width="2.8" height="2.8" fill="#000000"/>
<rect x="519.7" y="58.8" width="2.8" height="2.8" fill="#000000"/>
<rect x="521.0" y="54.4" width="2.8" height="2.8" fill="#000000"/>
<rect x="522.6" y="50.7" width="2.8" height="2.8" fill="#000000"/>
<rect x="524.2" y="48.5" width="2.8" height="2.8" fill="#000000"/>
<rect x="525.5" y="44.9" width="2.8" height="2.8" fill="#000000"/>
<rect x="526.5" y="40.9" width="2.8" height="2.8" fill="#000000"/>
<rect x="528.7" y="37.3" width="2.8" height="2.8" fill="#000000"/>
<rect x="530.6" y="33.8" width="2.8" height="2.8" fill="#000000"/>
<rect x="532.7" y="30.9" width="2.8" height="2.8" fill="#000000"/>
<rect x="534.9" y="27.2" width="2.8" height="2.8" fill="#000000"/>
<rect x="536.4" y="24.3" width="2.8" height="2.8" fill="#000000"/>
<rect x="538.7" y="20.5" width="2.8" height="2.8" fill="#000000"/>
<rect x="540.5" y="17.2" width="2.8" height="2.8" fill="#000000"/>
<rect x="543.3" y="13.9" width="2.8" height="2.8" fill="#000000"/>
<rect x="546.7" y="16.0" width="2.8" height="2.8" fill="#000000"/>
<rect x="549.7" y="17.2" width="2.8" height="2.8" fill="#000000"/>
<rect x="554.1" y="17.5" width="2.8" height="2.8" fill="#000000"/>
<rect x="557.6" y="16.7" width="2.8" height="2.8" fill="#000000"/>
<rect x="560.8" y="16.9" width="2.8" height="2.8" fill="#000000"/>
<rect x="563.9" y="18.7" width="2.8" height="2.8" fill="#000000"/>
<rect x="567.4" y="21.0" width="2.8" height="2.8" fill="#000000"/>
<rect x="570.1" y="24.4" width="2.8" height="2.8" fill="#000000"/>
<rect x="573.4" y="25.6" width="2.8" height="2.8" fill="#000000"/>
<rect x="575.5" y="28.9" width="2.8" height="2.8" fill="#000000"/>
<rect x="576.6" y="33.2" width="2.8" height="2.8" fill="#000000"/>
<rect x="578.3" y="35.5" width="2.8" height="2.8" fill="#000000"/>
<rect x="581.4" y="38.5" width="2.8" height="2.8" fill="#000000"/>
<rect x="584.9" y="40.2" width="2.8" height="2.8" fill="#000000"/>
<rect x="587.2" y="43.2" width="2.8" height="2.8" fill="#000000"/>
<rect x="589.1" y="47.0" width="2.8" height="2.8" fill="#000000"/>
<rect x="591.4" y="50.6" width="2.8" height="2.8" fill="#000000"/>
<rect x="593.7" y="53.1" width="2.8" height="2.8" fill="#000000"/>
<rect x="596.1" y="55.8" width="2.8" height="2.8" fill="#000000"/>
<rect x="598.6" y="60.0" width="2.8" height="2.8" fill="#000000"/>
<rect x="600.4" y="62.8" width="2.8" height="2.8" fill="#000000"/>
<rect x="602.5" y="65.2" width="2.8" height="2.8" fill="#000000"/>
<rect x="605.2" y="68.2" width="2.8" height="2.8" fill="#000000"/>
<rect x="607.2" y="71.9" width="2.8" height="2.8" fill="#000000"/>
<rect x="608.7" y="75.7" width="2.8" height="2.8" fill="#000000"/>
<rect x="610.4" y="79.3" width="2.8" height="2.8" fill="#000000"/>
<rect x="611.9" y="82.7" width="2.8" height="2.8" fill="#000000"/>
<rect x="613.8" y="86.5" width="2.8" height="2.8" fill="#000000"/>
<rect x="615.4" y="90.1" width="2.8" height="2.8" fill="#000000"/>
<rect x="617.0" y="94.1" width="2.8" height="2.8" fill="#000000"/>
<rect x="618.9" y="98.1" width="2.8" height="2.8" fill="#000000"/>
<rect x="620.3" y="101.0" width="2.8" height="2.8" fill="#000000"/>
<rect x="622.4" y="104.0" width="2.8" height="2.8" fill="#000000"/>
<polyline points="516.8,109.9 516.9,109.6 516.9,107.7 517.0,106.4 517.0,106.1 517.1,105.0 517.2,104.0 517.2,102.5 517.3,102.2 517.3,101.6 517.4,99.6 517.5,99.5 517.5,98.0 517.6,97.8 517.7,96.2 517.7,95.0 517.8,94.4 517.9,93.2 518.0,91.8 518.1,91.2 518.1,89.8 518.2,88.4 518.3,88.5 518.4,86.7 518.5,85.6 518.6,84.8 518.7,83.1 518.8,82.1 518.9,81.2 519.0,80.2 519.1,79.3 519.2,78.5 519.3,77.0 519.4,76.3 519.5,75.3 519.6,73.9 519.8,73.3 519.9,72.1 520.0,71.8 520.2,70.4 520.4,69.1 520.6,67.5 520.8,66.8 521.1,65.5 521.3,64.9 521.5,63.6 521.7,62.4 522.0,62.0 522.2,61.0 522.5,59.5 522.8,59.1 523.0,57.7 523.3,56.7 523.6,56.0 523.9,54.8 524.2,53.9 524.5,53.0 524.9,52.5 525.2,51.5 525.5,49.9 525.8,49.6 526.0,48.1 526.3,47.3 526.6,46.5 526.8,45.3 527.1,44.9 527.4,43.3 527.7,41.9 527.9,41.7 528.2,40.2 528.4,39.2 528.7,37.3 529.0,37.5 529.3,36.5 529.6,35.6 530.0,34.8 530.5,34.0 531.0,32.6 531.6,32.1 532.2,30.7 532.8,30.0 533.4,29.6 534.0,28.5 534.6,27.2 535.1,26.8 535.7,25.8 536.3,24.7 536.9,24.2 537.5,23.1 538.1,21.9 538.6,21.1 539.2,21.1 539.8,19.3 540.4,19.0 541.1,18.1 541.7,17.1 542.4,15.5 543.1,15.0 543.9,14.5 545.0,14.5 546.1,14.1 547.3,14.2 548.4,14.9 549.5,15.2 550.6,15.2 551.7,15.2 552.8,15.9 553.9,16.1 554.9,16.8 555.9,16.8 556.7,17.9 557.4,18.6 558.1,19.1 558.8,20.5 559.5,21.4 560.2,22.3 560.7,23.3 561.3,23.7 561.8,25.0 562.3,26.2 562.8,27.1 563.3,28.3 563.8,28.7 564.3,29.6 564.9,31.1 565.4,32.0 566.0,33.4 566.5,33.9 567.1,34.3 567.7,35.7 568.3,36.1 568.9,36.7 569.5,38.8 570.0,39.0 570.6,39.9 571.2,40.8 571.8,42.0 572.3,42.4 572.9,43.6 573.4,43.8 574.0,44.5 574.5,46.2 575.0,47.1 575.5,47.8 576.1,48.7 576.6,49.7 577.1,50.4 577.5,52.1 578.0,52.8 578.4,53.8 578.8,54.7 579.1,55.9 579.4,56.8 579.7,57.8 580.0,58.3 580.4,59.9 580.8,61.5 581.2,61.5 581.6,62.6 582.1,63.9 582.6,64.9 583.1,65.8 583.6,66.1 584.1,67.7 584.6,68.2 585.1,69.3 585.6,70.7 586.1,71.4 586.6,72.7 587.0,74.4 587.5,74.7 587.9,75.7 588.3,76.2 588.7,77.2 589.2,78.1 589.6,79.2 590.0,80.0 590.5,81.0 591.0,82.1 591.6,82.9 592.1,83.7 592.7,84.7 593.2,86.1 593.8,86.9 594.3,88.1 594.8,89.1 595.3,89.6 595.8,90.8 596.2,91.0 596.7,93.0 597.1,93.6 597.6,94.1 598.0,94.9 598.4,96.2 598.7,96.5 599.1,97.8 599.4,99.3 599.7,100.1 600.1,101.0 600.4,102.4 600.7,102.8 600.9,104.1 601.2,104.8 601.5,105.8 601.8,107.2 602.0,107.7 602.3,109.6 602.5,109.8" fill="none" stroke="#ff0000" stroke-width="1.5" stroke-linejoin="round"/>
<circle cx="516.9" cy="107.7" r="1.5" fill="#ff0000"/>
<circle cx="517.2" cy="102.5" r="1.5" fill="#ff0000"/>
<circle cx="517.4" cy="99.6" r="1.5" fill="#ff0000"/>
<circle cx="517.7" cy="95.0" r="1.5" fill="#ff0000"/>
<circle cx="518.0" cy="91.8" r="1.5" fill="#ff0000"/>
<circle cx="518.4" cy="86.7" r="1.5" fill="#ff0000"/>
<circle cx="518.7" cy="83.1" r="1.5" fill="#ff0000"/>
<circle cx="519.0" cy="80.2" r="1.5" fill="#ff0000"/>
<circle cx="519.5" cy="75.3" r="1.5" fill="#ff0000"/>
<circle cx="519.9" cy="72.1" r="1.5" fill="#ff0000"/>
<circle cx="520.6" cy="67.5" r="1.5" fill="#ff0000"/>
<circle cx="521.5" cy="63.6" r="1.5" fill="#ff0000"/>
<circle cx="522.5" cy="59.5" r="1.5" fill="#ff0000"/>
<circle cx="523.6" cy="56.0" r="1.5" fill="#ff0000"/>
<circle cx="524.9" cy="52.5" r="1.5" fill="#ff0000"/>
<circle cx="526.0" cy="48.1" r="1.5" fill="#ff0000"/>
<circle cx="526.8" cy="45.3" r="1.5" fill="#ff0000"/>
<circle cx="528.2" cy="40.2" r="1.5" fill="#ff0000"/>
<circle cx="528.7" cy="37.3" r="1.5" fill="#ff0000"/>
<circle cx="530.5" cy="34.0" r="1.5" fill="#ff0000"/>
<circle cx="532.2" cy="30.7" r="1.5" fill="#ff0000"/>
<circle cx="534.6" cy="27.2" r="1.5" fill="#ff0000"/>
<circle cx="536.9" cy="24.2" r="1.5" fill="#ff0000"/>
<circle cx="538.6" cy="21.1" r="1.5" fill="#ff0000"/>
<circle cx="541.1" cy="18.1" r="1.5" fill="#ff0000"/>
<circle cx="543.1" cy="15.0" r="1.5" fill="#ff0000"/>
<circle cx="547.3" cy="14.2" r="1.5" fill="#ff0000"/>
<circle cx="550.6" cy="15.2" r="1.5" fill="#ff0000"/>
<circle cx="554.9" cy="16.8" r="1.5" fill="#ff0000"/>
<circle cx="557.4" cy="18.6" r="1.5" fill="#ff0000"/>
<circle cx="560.2" cy="22.3" r="1.5" fill="#ff0000"/>
<circle cx="561.8" cy="25.0" r="1.5" fill="#ff0000"/>
<circle cx="563.8" cy="28.7" r="1.5" fill="#ff0000"/>
<circle cx="565.4" cy="32.0" r="1.5" fill="#ff0000"/>
<circle cx="567.7" cy="35.7" r="1.5" fill="#ff0000"/>
<circle cx="569.5" cy="38.8" r="1.5" fill="#ff0000"/>
<circle cx="571.8" cy="42.0" r="1.5" fill="#ff0000"/>
<circle cx="574.5" cy="46.2" r="1.5" fill="#ff0000"/>
<circle cx="576.1" cy="48.7" r="1.5" fill="#ff0000"/>
<circle cx="577.5" cy="52.1" r="1.5" fill="#ff0000"/>
<circle cx="579.1" cy="55.9" r="1.5" fill="#ff0000"/>
<circle cx="580.4" cy="59.9" r="1.5" fill="#ff0000"/>
<circle cx="582.1" cy="63.9" r="1.5" fill="#ff0000"/>
<circle cx="584.1" cy="67.7" r="1.5" fill="#ff0000"/>
<circle cx="585.6" cy="70.7" r="1.5" fill="#ff0000"/>
<circle cx="587.0" cy="74.4" r="1.5" fill="#ff0000"/>
<circle cx="588.7" cy="77.2" r="1.5" fill="#ff0000"/>
<circle cx="590.5" cy="81.0" r="1.5" fill="#ff0000"/>
<circle cx="592.7" cy="84.7" r="1.5" fill="#ff0000"/>
<circle cx="594.3" cy="88.1" r="1.5" fill="#ff0000"/>
<circle cx="596.2" cy="91.0" r="1.5" fill="#ff0000"/>
<circle cx="598.0" cy="94.9" r="1.5" fill="#ff0000"/>
<circle cx="599.4" cy="99.3" r="1.5" fill="#ff0000"/>
<circle cx="600.4" cy="102.4" r="1.5" fill="#ff0000"/>
<circle cx="601.5" cy="105.8" r="1.5" fill="#ff0000"/>
<polyline points="514.7,110.6 514.8,108.7 514.8,108.2 514.9,106.7 514.9,105.6 515.0,105.1 515.1,104.2 515.1,102.7 515.2,102.4 515.3,100.8 515.3,100.1 515.4,99.2 515.4,98.3 515.5,96.5 515.6,96.6 515.6,95.2 515.7,93.9 515.7,92.7 515.8,91.5 515.9,90.6 515.9,90.1 516.0,88.8 516.0,87.6 516.1,86.7 516.1,86.3 516.1,84.6 516.2,83.5 516.2,83.0 516.3,81.7 516.3,80.5 516.4,79.2 516.4,77.9 516.5,77.0 516.5,76.2 516.6,75.3 516.6,74.4 516.7,73.5 516.7,72.5 516.8,71.6 516.9,70.0 517.0,68.5 517.1,67.8 517.2,66.6 517.3,65.5 517.4,64.6 517.5,63.2 517.5,62.2 517.6,61.5 517.7,60.6 517.8,59.3 517.9,58.7 518.0,57.4 518.1,56.0 518.2,55.3 518.2,54.9 518.3,53.1 518.4,52.5 518.5,51.4 518.6,50.6 518.6,48.9 518.6,48.7 518.7,47.1 518.7,46.0 518.7,44.9 518.8,44.1 518.8,42.8 518.9,41.7 519.0,41.2 519.1,39.6 519.3,38.6 519.5,38.2 519.9,37.1 520.4,36.1 521.0,34.5 521.6,34.2 522.1,33.1 522.6,32.5 523.0,30.6 523.2,29.9 523.4,28.5 523.4,26.9 523.5,25.9 523.6,25.4 523.9,24.0 524.6,22.9 525.5,22.6 526.5,21.8 527.2,21.0 527.9,19.6 528.6,18.9 529.3,18.4 530.1,17.3 530.8,17.0 531.7,17.8 532.5,18.9 533.4,19.0 534.3,19.0 535.2,18.9 536.1,18.2 537.0,17.4 537.8,16.8 538.6,16.3 539.3,16.7 540.0,18.1 540.6,19.0 541.2,19.7 541.8,19.2 542.4,19.2 543.0,17.3 543.5,15.6 544.1,14.6 544.7,14.4 545.2,14.3 545.7,15.2 546.2,16.1 546.6,17.7 547.1,18.5 547.6,19.5 548.2,20.2 548.9,21.0 549.6,22.1 550.3,22.8 551.0,23.9 551.8,24.1 552.5,25.3 553.3,25.9 554.0,26.8 554.8,27.2 555.5,28.3 556.2,29.7 556.9,30.6 558.1,31.1 559.3,32.1 559.8,32.5 560.2,33.3 560.6,34.2 561.0,35.7 561.5,36.6 561.9,37.5 562.3,38.6 562.8,39.9 563.3,40.8 563.8,41.4 564.4,43.2 564.9,43.7 565.5,44.6 566.1,46.0 566.6,46.9 567.2,47.5 567.7,48.6 568.3,49.0 568.9,50.0 569.4,50.4 570.0,52.3 570.5,52.2 571.0,53.8 571.5,54.3 572.0,55.2 572.5,56.5 572.9,57.6 573.3,58.7 573.8,60.2 574.3,60.9 574.7,61.9 575.0,62.4 575.4,63.7 575.8,64.5 576.2,65.3 576.7,66.5 577.1,67.6 577.5,68.7 578.0,69.8 578.4,70.6 578.8,71.5 579.3,73.0 579.7,73.2 580.2,74.5 580.7,76.2 581.1,75.9 581.6,77.5 582.1,78.8 582.6,79.1 583.1,81.3 583.6,80.7 584.1,82.9 584.5,83.9 585.0,84.7 585.4,85.3 585.8,86.4 586.2,87.0 586.6,88.5 587.0,88.9 587.4,90.1 587.8,91.5 588.2,91.8 588.6,93.1 589.0,94.2 589.4,94.8 589.8,96.5 590.2,97.3 590.7,97.9 591.2,99.4 591.7,100.4 592.1,101.5 592.6,102.9 593.1,103.7 593.5,105.2 593.9,105.7 594.2,107.0 594.6,107.5 594.8,108.4 595.2,109.0 595.5,109.8" fill="none" stroke="#0000ff" stroke-width="1.5" stroke-linejoin="round"/>
<polygon points="514.8,105.8 512.7,109.7 516.9,109.7" fill="#0000ff"/>
<polygon points="515.2,100.0 513.1,103.9 517.3,103.9" fill="#0000ff"/>
<polygon points="515.5,94.1 513.4,98.0 517.6,98.0" fill="#0000ff"/>
<polygon points="515.9,88.2 513.8,92.1 518.0,92.1" fill="#0000ff"/>
<polygon points="516.1,82.2 514.0,86.1 518.2,86.1" fill="#0000ff"/>
<polygon points="516.4,75.5 514.3,79.4 518.5,79.4" fill="#0000ff"/>
<polygon points="516.7,70.1 514.6,74.0 518.8,74.0" fill="#0000ff"/>
<polygon points="517.2,64.2 515.1,68.1 519.3,68.1" fill="#0000ff"/>
<polygon points="517.7,58.2 515.6,62.1 519.8,62.1" fill="#0000ff"/>
<polygon points="518.3,50.7 516.2,54.6 520.4,54.6" fill="#0000ff"/>
<polygon points="518.6,46.3 516.5,50.2 520.7,50.2" fill="#0000ff"/>
<polygon points="518.9,39.3 516.8,43.2 521.0,43.2" fill="#0000ff"/>
<polygon points="520.4,33.7 518.3,37.6 522.5,37.6" fill="#0000ff"/>
<polygon points="523.0,28.2 520.9,32.1 525.1,32.1" fill="#0000ff"/>
<polygon points="523.5,23.5 521.4,27.4 525.6,27.4" fill="#0000ff"/>
<polygon points="527.2,18.6 525.1,22.5 529.3,22.5" fill="#0000ff"/>
<polygon points="530.8,14.6 528.7,18.5 532.9,18.5" fill="#0000ff"/>
<polygon points="536.1,15.8 534.0,19.7 538.2,19.7" fill="#0000ff"/>
<polygon points="540.0,15.7 537.9,19.6 542.1,19.6" fill="#0000ff"/>
<polygon points="543.5,13.2 541.4,17.1 545.6,17.1" fill="#0000ff"/>
<polygon points="546.6,15.3 544.5,19.2 548.7,19.2" fill="#0000ff"/>
<polygon points="549.6,19.7 547.5,23.6 551.7,23.6" fill="#0000ff"/>
<polygon points="553.3,23.5 551.2,27.4 555.4,27.4" fill="#0000ff"/>
<polygon points="556.9,28.2 554.8,32.1 559.0,32.1" fill="#0000ff"/>
<polygon points="561.0,33.3 558.9,37.2 563.1,37.2" fill="#0000ff"/>
<polygon points="563.3,38.4 561.2,42.3 565.4,42.3" fill="#0000ff"/>
<polygon points="566.1,43.6 564.0,47.5 568.2,47.5" fill="#0000ff"/>
<polygon points="569.4,48.0 567.3,51.9 571.5,51.9" fill="#0000ff"/>
<polygon points="572.0,52.8 569.9,56.7 574.1,56.7" fill="#0000ff"/>
<polygon points="574.3,58.5 572.2,62.4 576.4,62.4" fill="#0000ff"/>
<polygon points="576.7,64.1 574.6,68.0 578.8,68.0" fill="#0000ff"/>
<polygon points="578.8,69.1 576.7,73.0 580.9,73.0" fill="#0000ff"/>
<polygon points="581.6,75.1 579.5,79.0 583.7,79.0" fill="#0000ff"/>
<polygon points="583.6,78.3 581.5,82.2 585.7,82.2" fill="#0000ff"/>
<polygon points="585.8,84.0 583.7,87.9 587.9,87.9" fill="#0000ff"/>
<polygon points="587.8,89.1 585.7,93.0 589.9,93.0" fill="#0000ff"/>
<polygon points="590.2,94.9 588.1,98.8 592.3,98.8" fill="#0000ff"/>
<polygon points="592.6,100.5 590.5,104.4 594.7,104.4" fill="#0000ff"/>
<polygon points="594.8,106.0 592.7,109.9 596.9,109.9" fill="#0000ff"/>
<line x1="507.6" y1="2.5" x2="635.2" y2="2.5" stroke="#000" stroke-width="2"/>
<text class="lab" x="567.5" y="130" text-anchor="middle" style="font-size:10.5px;letter-spacing:0.2px">Wavelength (nm)</text>
<text class="labj" transform="translate(499.5,56.5) rotate(-90)" text-anchor="middle">Normalized abs. (a.u.)</text>
</svg>
</body></html>
